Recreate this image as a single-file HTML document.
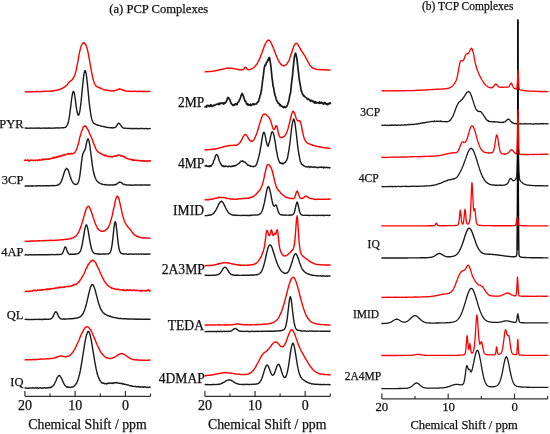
<!DOCTYPE html>
<html><head><meta charset="utf-8"><style>
html,body{margin:0;padding:0;background:#fff;}
body{width:550px;height:434px;overflow:hidden;position:relative;font-family:"Liberation Serif",serif;color:#111;}
svg{position:absolute;left:0;top:0;will-change:transform;}
.t{font-family:"Liberation Serif",serif;fill:#111;stroke:#111;stroke-width:0.25px;}
</style></head><body>
<svg width="550" height="434" viewBox="0 0 550 434">
<line x1="24.90" y1="396.3" x2="150.53" y2="396.3" stroke="#333" stroke-width="1.3"/>
<line x1="24.90" y1="391.0" x2="24.90" y2="396.3" stroke="#333" stroke-width="1.2"/>
<line x1="50.02" y1="393.5" x2="50.02" y2="396.3" stroke="#333" stroke-width="1.2"/>
<line x1="75.15" y1="391.0" x2="75.15" y2="396.3" stroke="#333" stroke-width="1.2"/>
<line x1="100.28" y1="393.5" x2="100.28" y2="396.3" stroke="#333" stroke-width="1.2"/>
<line x1="125.40" y1="391.0" x2="125.40" y2="396.3" stroke="#333" stroke-width="1.2"/>
<line x1="150.53" y1="393.5" x2="150.53" y2="396.3" stroke="#333" stroke-width="1.2"/><line x1="204.90" y1="396.3" x2="330.27" y2="396.3" stroke="#333" stroke-width="1.3"/>
<line x1="204.90" y1="391.0" x2="204.90" y2="396.3" stroke="#333" stroke-width="1.2"/>
<line x1="229.97" y1="393.5" x2="229.97" y2="396.3" stroke="#333" stroke-width="1.2"/>
<line x1="255.05" y1="391.0" x2="255.05" y2="396.3" stroke="#333" stroke-width="1.2"/>
<line x1="280.12" y1="393.5" x2="280.12" y2="396.3" stroke="#333" stroke-width="1.2"/>
<line x1="305.20" y1="391.0" x2="305.20" y2="396.3" stroke="#333" stroke-width="1.2"/>
<line x1="330.27" y1="393.5" x2="330.27" y2="396.3" stroke="#333" stroke-width="1.2"/><line x1="381.90" y1="398.9" x2="547.65" y2="398.9" stroke="#333" stroke-width="1.3"/>
<line x1="381.90" y1="393.59999999999997" x2="381.90" y2="398.9" stroke="#333" stroke-width="1.2"/>
<line x1="415.05" y1="396.09999999999997" x2="415.05" y2="398.9" stroke="#333" stroke-width="1.2"/>
<line x1="448.20" y1="393.59999999999997" x2="448.20" y2="398.9" stroke="#333" stroke-width="1.2"/>
<line x1="481.35" y1="396.09999999999997" x2="481.35" y2="398.9" stroke="#333" stroke-width="1.2"/>
<line x1="514.50" y1="393.59999999999997" x2="514.50" y2="398.9" stroke="#333" stroke-width="1.2"/>
<line x1="547.65" y1="396.09999999999997" x2="547.65" y2="398.9" stroke="#333" stroke-width="1.2"/>
<polyline points="24.6,128.14 25.1,128.07 25.6,128.08 26.1,127.88 26.6,128.30 27.1,128.24 27.6,128.09 28.1,128.20 28.6,128.15 29.1,128.07 29.6,128.23 30.1,128.10 30.6,128.10 31.1,128.05 31.6,128.18 32.1,128.12 32.6,128.19 33.1,128.07 33.6,128.15 34.1,128.04 34.6,128.22 35.1,128.15 35.6,128.17 36.1,128.18 36.6,128.03 37.1,128.21 37.6,128.34 38.1,127.97 38.6,127.96 39.1,127.98 39.6,128.22 40.1,128.15 40.6,128.24 41.1,128.20 41.6,128.15 42.1,128.16 42.6,128.11 43.1,128.22 43.6,128.01 44.1,128.08 44.6,128.15 45.1,128.30 45.6,128.04 46.1,128.01 46.6,128.06 47.1,128.21 47.6,128.09 48.1,128.24 48.6,127.92 49.1,128.22 49.6,128.20 50.1,127.95 50.6,128.11 51.1,128.21 51.6,128.09 52.1,128.18 52.6,128.31 53.1,128.09 53.6,128.03 54.1,127.98 54.6,128.11 55.1,128.02 55.6,128.01 56.1,128.01 56.6,128.07 57.1,127.89 57.6,127.83 58.1,127.73 58.6,128.08 59.1,127.95 59.6,128.08 60.1,127.91 60.6,127.82 61.1,127.91 61.6,127.83 62.1,127.69 62.6,127.69 63.1,127.91 63.6,127.72 64.1,127.65 64.6,127.48 65.1,127.29 65.6,127.21 66.1,126.76 66.6,126.16 67.1,125.45 67.6,124.25 68.1,122.83 68.6,120.89 69.1,118.10 69.6,115.18 70.1,111.32 70.6,107.40 71.1,103.16 71.6,99.24 72.1,95.80 72.6,93.12 73.1,91.62 73.4,91.37 73.6,91.46 74.1,92.56 74.6,95.01 75.1,98.23 75.6,101.89 76.1,105.55 76.6,109.14 77.1,111.78 77.6,113.78 78.1,115.16 78.6,115.02 79.1,114.33 79.6,112.25 80.1,109.53 80.6,105.59 81.1,101.46 81.6,96.41 82.1,91.10 82.6,86.11 83.1,81.07 83.6,76.68 84.1,73.25 84.6,71.20 85.0,70.49 85.1,70.58 85.6,71.37 86.1,73.40 86.6,76.79 87.1,81.09 87.6,85.90 88.1,91.16 88.6,96.38 89.1,101.39 89.6,105.96 90.1,109.71 90.6,113.23 91.1,115.91 91.6,118.39 92.1,119.90 92.6,121.27 93.1,122.10 93.5,122.70 93.6,122.93 94.1,123.39 94.6,123.85 95.1,123.94 95.6,124.40 96.1,124.43 96.6,124.86 97.1,124.82 97.6,125.10 98.1,125.00 98.6,125.33 99.1,125.34 99.6,125.53 100.1,125.72 100.6,125.83 101.1,126.03 101.6,126.21 102.1,126.34 102.6,126.39 103.1,126.39 103.6,126.56 104.1,126.74 104.6,126.65 105.1,127.04 105.6,127.04 106.1,127.14 106.6,127.34 107.1,127.40 107.6,127.43 108.1,127.38 108.6,127.58 109.1,127.64 109.6,127.57 110.1,127.81 110.6,127.81 111.1,127.60 111.6,127.84 112.1,127.73 112.6,127.98 113.1,127.95 113.6,127.72 114.1,127.66 114.6,127.61 115.1,127.32 115.6,127.11 116.1,126.50 116.6,125.72 117.1,125.05 117.6,124.03 118.1,123.63 118.6,123.32 118.9,123.16 119.1,123.16 119.6,123.65 120.1,124.43 120.6,125.04 121.1,125.70 121.6,126.67 122.1,126.92 122.6,127.59 123.1,127.79 123.6,128.14 124.1,128.08 124.6,128.38 125.1,128.33 125.6,128.16 126.1,128.15 126.6,128.34 127.1,128.52 127.6,128.41 128.1,128.42 128.6,128.40 129.1,128.51 129.6,128.49 130.1,128.49 130.6,128.37 131.1,128.59 131.6,128.62 132.1,128.36 132.6,128.73 133.1,128.58 133.6,128.46 134.1,128.33 134.6,128.59 135.1,128.59 135.6,128.48 136.1,128.37 136.6,128.66 137.1,128.50 137.6,128.51 138.1,128.85 138.6,128.78 139.1,128.67 139.6,128.54 140.1,128.65 140.6,128.36 141.1,128.61 141.6,128.52 142.1,128.48 142.6,128.45 143.1,128.67 143.6,128.63 144.1,128.64 144.6,128.71 145.1,128.55 145.6,128.51 146.1,128.46 146.6,128.61 147.1,128.72 147.6,128.63 148.1,128.72 148.6,128.54 149.1,128.61 149.6,128.59 150.1,128.54 150.6,128.86" fill="none" stroke="#1a1a1a" stroke-width="1.4" stroke-linejoin="round"/>
<polyline points="24.6,185.96 25.1,186.00 25.6,186.18 26.1,186.08 26.6,185.84 27.1,186.00 27.6,185.93 28.1,186.01 28.6,185.82 29.1,186.00 29.6,186.00 30.1,186.13 30.6,186.00 31.1,186.01 31.6,185.80 32.1,186.17 32.6,185.75 33.1,186.05 33.6,185.90 34.1,185.84 34.6,185.85 35.1,185.85 35.6,185.95 36.1,185.89 36.6,186.04 37.1,185.71 37.6,185.88 38.1,185.79 38.6,185.95 39.1,185.65 39.6,185.82 40.1,185.87 40.6,185.70 41.1,185.94 41.6,185.85 42.1,185.93 42.6,185.91 43.1,185.71 43.6,185.72 44.1,185.78 44.6,185.86 45.1,185.87 45.6,185.70 46.1,185.70 46.6,185.68 47.1,185.69 47.6,185.71 48.1,185.72 48.6,185.93 49.1,185.66 49.6,185.67 50.1,185.73 50.6,185.58 51.1,185.63 51.6,185.65 52.1,185.72 52.6,185.49 53.1,185.75 53.6,185.56 54.1,185.59 54.6,185.63 55.1,185.59 55.6,185.59 56.1,185.45 56.6,185.36 57.1,185.30 57.6,185.04 58.1,185.07 58.6,184.62 59.1,184.23 59.6,184.10 60.1,183.29 60.6,182.44 61.1,181.83 61.6,180.51 62.1,179.38 62.6,177.77 63.1,176.29 63.6,174.56 64.1,172.96 64.6,171.57 65.1,170.36 65.6,169.44 66.1,168.95 66.6,168.36 66.6,168.56 67.1,168.60 67.6,169.25 68.1,170.09 68.6,171.34 69.1,172.86 69.6,174.36 70.1,176.04 70.6,177.48 71.1,179.06 71.6,180.19 72.1,181.26 72.6,182.24 73.1,182.89 73.6,183.38 74.1,183.79 74.6,184.07 75.1,184.38 75.6,184.45 76.1,184.43 76.6,184.38 77.1,184.02 77.6,183.68 78.1,182.72 78.6,181.74 79.1,179.75 79.6,177.15 80.1,173.83 80.6,169.80 81.1,165.48 81.6,161.43 82.1,157.69 82.5,155.38 82.6,155.01 83.1,153.06 83.6,152.38 84.1,151.44 84.6,150.55 85.1,149.40 85.6,147.49 86.1,145.00 86.6,142.69 87.1,140.68 87.6,139.37 88.0,138.78 88.1,138.81 88.6,139.63 89.1,141.34 89.6,144.13 90.1,147.56 90.6,151.27 91.1,155.36 91.6,159.19 92.1,163.21 92.6,166.78 93.1,169.53 93.6,172.31 93.8,173.01 94.1,174.31 94.6,176.07 95.1,177.51 95.6,178.57 96.1,179.58 96.6,180.38 97.1,181.10 97.6,181.66 98.1,181.98 98.6,182.54 99.1,182.74 99.6,183.11 100.1,183.44 100.6,183.64 101.1,183.84 101.6,184.06 102.1,184.13 102.6,184.26 103.1,184.41 103.6,184.62 104.1,184.60 104.6,184.86 105.1,184.75 105.6,184.48 106.1,184.77 106.6,185.01 107.1,184.87 107.6,184.85 108.1,184.83 108.6,185.06 109.1,185.04 109.6,185.02 110.1,185.01 110.6,185.12 111.1,185.06 111.6,184.86 112.1,185.06 112.6,184.99 113.1,184.96 113.6,185.02 114.1,184.91 114.6,184.55 115.1,184.90 115.6,184.70 116.1,184.38 116.6,184.09 117.1,183.83 117.6,183.30 118.1,183.07 118.6,182.63 119.1,182.30 119.6,182.04 120.0,182.01 120.1,182.20 120.6,182.33 121.1,182.51 121.6,182.80 122.1,183.11 122.6,183.66 123.1,184.11 123.6,184.09 124.1,184.61 124.6,184.46 125.1,184.77 125.6,184.93 126.1,184.81 126.6,184.83 127.1,185.02 127.6,185.11 128.1,184.98 128.6,185.17 129.1,184.96 129.6,185.21 130.1,185.05 130.6,185.07 131.1,185.10 131.6,185.07 132.1,185.23 132.6,185.26 133.1,185.10 133.6,185.02 134.1,184.92 134.6,184.96 135.1,185.04 135.6,185.02 136.1,185.03 136.6,185.03 137.1,185.08 137.6,184.89 138.1,184.92 138.6,185.13 139.1,185.10 139.6,184.96 140.1,185.14 140.6,184.94 141.1,184.98 141.6,184.82 142.1,185.08 142.6,185.00 143.1,185.10 143.6,185.06 144.1,185.00 144.6,185.00 145.1,185.10 145.6,184.96 146.1,184.96 146.6,184.98 147.1,185.05 147.6,185.06 148.1,185.15 148.6,184.95 149.1,185.08 149.6,184.89 150.1,185.01 150.6,184.96" fill="none" stroke="#1a1a1a" stroke-width="1.4" stroke-linejoin="round"/>
<polyline points="24.6,254.94 25.1,255.01 25.6,254.57 26.1,254.81 26.6,254.92 27.1,254.95 27.6,254.88 28.1,254.96 28.6,254.84 29.1,254.86 29.6,254.82 30.1,254.69 30.6,254.71 31.1,254.83 31.6,254.73 32.1,254.91 32.6,254.91 33.1,254.96 33.6,254.77 34.1,254.91 34.6,254.68 35.1,254.69 35.6,254.77 36.1,254.79 36.6,254.60 37.1,254.58 37.6,254.79 38.1,254.66 38.6,254.86 39.1,254.78 39.6,254.77 40.1,254.75 40.6,254.82 41.1,254.71 41.6,254.83 42.1,254.67 42.6,254.69 43.1,254.64 43.6,254.77 44.1,254.71 44.6,254.61 45.1,254.90 45.6,254.66 46.1,254.68 46.6,254.72 47.1,254.85 47.6,254.66 48.1,254.74 48.6,254.68 49.1,254.52 49.6,254.74 50.1,254.76 50.6,254.63 51.1,254.64 51.6,254.49 52.1,254.48 52.6,254.59 53.1,254.69 53.6,254.57 54.1,254.64 54.6,254.70 55.1,254.61 55.6,254.65 56.1,254.73 56.6,254.45 57.1,254.64 57.6,254.37 58.1,254.59 58.6,254.56 59.1,254.47 59.6,254.40 60.1,254.48 60.6,254.39 61.1,254.34 61.6,254.03 62.1,253.78 62.6,252.94 63.1,251.97 63.6,250.59 64.1,249.24 64.6,247.63 65.1,246.97 65.3,247.06 65.6,247.03 66.1,247.86 66.6,249.40 67.1,250.84 67.6,252.25 68.1,253.02 68.6,253.74 69.1,254.12 69.6,254.32 70.1,254.17 70.6,254.45 71.1,254.22 71.6,254.16 72.1,254.20 72.6,254.30 73.1,254.24 73.6,254.29 74.1,254.28 74.6,254.23 75.1,254.15 75.6,254.31 76.1,253.86 76.6,253.84 77.1,253.87 77.6,253.67 78.1,253.35 78.6,253.25 79.1,252.85 79.6,252.11 80.1,251.64 80.6,250.60 81.1,249.18 81.6,247.21 82.1,245.09 82.6,242.39 83.1,239.65 83.6,236.48 84.1,233.48 84.6,230.47 85.1,228.08 85.6,226.19 86.1,225.23 86.4,224.81 86.6,224.90 87.1,226.09 87.6,227.83 88.1,230.43 88.6,233.34 89.1,236.43 89.6,239.58 90.1,242.42 90.6,244.98 91.1,247.04 91.6,249.10 92.1,250.36 92.6,251.54 93.1,252.26 93.6,252.93 94.1,253.21 94.6,253.49 95.1,253.67 95.6,253.71 96.1,253.81 96.6,253.91 97.1,253.95 97.6,253.90 98.1,254.25 98.6,253.94 99.1,254.02 99.6,254.30 100.1,254.00 100.6,254.15 101.1,254.14 101.6,254.05 102.1,253.93 102.6,253.91 103.1,254.06 103.6,254.10 104.1,253.83 104.6,254.04 105.1,253.95 105.6,254.08 106.1,253.98 106.6,253.85 107.1,253.85 107.6,253.84 108.1,253.89 108.6,253.93 109.1,253.46 109.6,253.08 110.1,252.53 110.6,251.47 111.1,250.00 111.6,247.71 112.1,244.58 112.6,240.58 113.1,236.11 113.6,231.37 114.1,226.82 114.6,223.55 115.1,221.82 115.2,221.63 115.6,222.37 116.1,224.56 116.6,228.74 117.1,233.51 117.6,238.07 118.1,242.41 118.6,246.09 119.1,248.87 119.6,250.70 120.1,251.97 120.6,252.84 121.1,253.26 121.6,253.40 122.1,253.66 122.6,253.78 123.1,253.70 123.6,253.94 124.1,253.86 124.6,254.04 125.1,253.85 125.6,253.92 126.1,253.89 126.6,254.18 127.1,254.19 127.6,254.22 128.1,254.23 128.6,254.19 129.1,254.19 129.6,253.94 130.1,254.15 130.6,254.07 131.1,254.09 131.6,254.01 132.1,254.26 132.6,254.15 133.1,253.99 133.6,254.19 134.1,254.13 134.6,254.04 135.1,254.11 135.6,254.06 136.1,253.91 136.6,253.99 137.1,254.19 137.6,254.17 138.1,254.16 138.6,254.02 139.1,254.07 139.6,254.14 140.1,254.20 140.6,254.05 141.1,254.02 141.6,254.24 142.1,254.13 142.6,254.09 143.1,254.05 143.6,254.06 144.1,254.28 144.6,254.22 145.1,254.08 145.6,253.99 146.1,254.28 146.6,254.27 147.1,254.23 147.6,254.19 148.1,253.92 148.6,253.98 149.1,254.16 149.6,254.07 150.1,254.12 150.6,254.04" fill="none" stroke="#1a1a1a" stroke-width="1.4" stroke-linejoin="round"/>
<polyline points="24.6,319.32 25.1,319.35 25.6,319.35 26.1,319.45 26.6,319.25 27.1,319.46 27.6,319.38 28.1,319.56 28.6,319.57 29.1,319.61 29.6,319.54 30.1,319.46 30.6,319.55 31.1,319.61 31.6,319.39 32.1,319.51 32.6,319.45 33.1,319.59 33.6,319.36 34.1,319.41 34.6,319.48 35.1,319.46 35.6,319.27 36.1,319.47 36.6,319.41 37.1,319.40 37.6,319.40 38.1,319.44 38.6,319.23 39.1,319.56 39.6,319.32 40.1,319.17 40.6,319.39 41.1,319.54 41.6,319.33 42.1,319.53 42.6,319.53 43.1,319.28 43.6,319.12 44.1,319.23 44.6,319.47 45.1,319.26 45.6,319.18 46.1,319.19 46.6,319.32 47.1,319.31 47.6,319.38 48.1,319.38 48.6,319.17 49.1,319.22 49.6,319.07 50.1,319.11 50.6,318.86 51.1,318.63 51.6,318.61 52.1,317.89 52.6,317.24 53.1,316.52 53.6,315.29 54.1,314.07 54.6,313.03 55.1,312.12 55.6,311.85 55.8,311.65 56.1,311.93 56.6,312.21 57.1,313.06 57.6,314.11 58.1,315.33 58.6,316.31 59.1,317.30 59.6,317.78 60.1,318.34 60.6,318.82 61.1,318.79 61.6,318.98 62.1,319.14 62.6,319.07 63.1,318.96 63.6,318.81 64.1,319.25 64.6,319.05 65.1,319.12 65.6,318.93 66.1,319.15 66.6,319.00 67.1,318.93 67.6,318.82 68.1,318.93 68.6,318.82 69.1,318.82 69.6,318.65 70.1,318.73 70.6,318.77 71.1,318.59 71.6,318.69 72.1,318.71 72.6,318.57 73.1,318.49 73.6,318.44 74.1,318.54 74.6,318.23 75.1,318.29 75.6,318.20 76.1,318.17 76.6,318.06 77.1,317.85 77.6,318.04 78.1,317.71 78.6,317.38 79.1,317.23 79.6,317.08 80.1,316.84 80.6,316.30 81.1,316.08 81.6,315.36 82.1,314.82 82.6,314.26 83.1,313.50 83.6,312.34 84.1,311.17 84.6,310.03 85.1,308.33 85.6,306.83 86.1,305.04 86.6,303.19 87.1,301.07 87.6,298.89 88.1,296.80 88.6,294.45 89.1,292.53 89.6,290.39 90.1,288.56 90.6,287.06 91.1,285.87 91.6,285.07 92.1,284.53 92.2,284.59 92.6,284.63 93.1,284.93 93.6,285.65 94.1,286.99 94.6,288.37 95.1,289.80 95.6,291.74 96.1,293.78 96.6,295.59 97.1,297.62 97.6,299.42 98.1,301.45 98.5,302.82 98.6,303.14 99.1,304.85 99.6,306.11 100.1,307.41 100.6,308.80 101.1,309.48 101.6,310.57 102.1,311.14 102.6,311.97 103.1,312.73 103.6,313.05 104.1,313.38 104.6,314.08 105.1,314.12 105.6,314.46 106.1,314.78 106.6,314.87 107.1,315.34 107.6,315.61 108.1,315.73 108.6,315.88 109.1,316.01 109.6,316.29 110.1,316.06 110.6,316.52 111.1,316.71 111.6,316.63 112.1,317.02 112.6,317.10 113.1,317.23 113.6,317.37 114.1,317.53 114.6,317.63 115.1,317.59 115.6,317.78 116.1,317.87 116.6,317.98 117.1,318.00 117.6,318.23 118.1,318.34 118.6,318.43 119.1,318.53 119.6,318.55 120.1,318.41 120.6,318.45 121.1,318.52 121.6,318.66 122.1,318.63 122.6,318.78 123.1,318.89 123.6,318.71 124.1,318.89 124.6,318.78 125.1,318.72 125.6,318.74 126.1,318.86 126.6,318.73 127.1,318.99 127.6,319.11 128.1,318.86 128.6,318.96 129.1,319.16 129.6,319.06 130.1,319.06 130.6,319.02 131.1,319.16 131.6,319.11 132.1,318.98 132.6,318.85 133.1,318.84 133.6,319.18 134.1,319.10 134.6,319.28 135.1,319.19 135.6,319.02 136.1,319.19 136.6,319.28 137.1,319.08 137.6,319.13 138.1,319.36 138.6,319.01 139.1,319.09 139.6,319.31 140.1,319.23 140.6,319.10 141.1,319.07 141.6,319.27 142.1,319.35 142.6,319.31 143.1,319.27 143.6,319.39 144.1,319.27 144.6,319.16 145.1,319.45 145.6,319.13 146.1,319.24 146.6,319.25 147.1,319.41 147.6,319.19 148.1,319.24 148.6,319.09 149.1,319.31 149.6,319.32 150.1,319.35 150.6,319.19" fill="none" stroke="#1a1a1a" stroke-width="1.4" stroke-linejoin="round"/>
<polyline points="24.6,387.94 25.1,388.01 25.6,387.99 26.1,388.20 26.6,388.09 27.1,388.16 27.6,388.30 28.1,388.30 28.6,388.22 29.1,388.03 29.6,387.97 30.1,387.95 30.6,388.04 31.1,388.09 31.6,387.90 32.1,387.87 32.6,388.15 33.1,387.71 33.6,388.04 34.1,388.16 34.6,387.87 35.1,387.84 35.6,387.91 36.1,388.18 36.6,388.02 37.1,387.67 37.6,387.95 38.1,388.23 38.6,388.22 39.1,388.14 39.6,387.96 40.1,387.64 40.6,388.03 41.1,387.96 41.6,388.00 42.1,388.29 42.6,388.01 43.1,388.02 43.6,388.07 44.1,387.89 44.6,387.80 45.1,387.78 45.6,388.07 46.1,388.00 46.6,387.79 47.1,388.10 47.6,387.89 48.1,387.56 48.6,387.92 49.1,387.73 49.6,387.43 50.1,387.72 50.6,387.43 51.1,387.26 51.6,387.24 52.1,386.39 52.6,386.18 53.1,385.85 53.6,385.37 54.1,384.43 54.6,383.48 55.1,382.46 55.6,381.55 56.1,380.55 56.6,378.96 57.1,377.73 57.6,377.10 58.1,376.29 58.6,375.65 59.1,375.71 59.2,375.74 59.6,375.56 60.1,376.00 60.6,376.86 61.1,377.56 61.6,378.41 62.1,379.81 62.6,380.79 63.1,382.15 63.6,383.02 64.1,384.00 64.6,384.94 65.1,385.47 65.6,385.90 66.1,386.23 66.6,387.09 67.1,387.20 67.6,386.83 68.1,387.03 68.6,387.42 69.1,387.21 69.6,387.33 70.1,387.47 70.6,387.29 71.1,387.18 71.6,387.02 72.1,386.98 72.6,386.92 73.1,386.99 73.6,386.61 74.1,386.04 74.6,385.87 75.1,385.22 75.6,384.31 76.1,383.86 76.6,383.21 77.1,381.86 77.6,380.95 78.1,379.30 78.6,377.74 79.1,375.65 79.6,374.23 80.1,371.61 80.6,369.20 81.1,366.18 81.6,363.06 82.1,360.53 82.6,356.97 83.1,354.20 83.6,350.59 84.1,347.75 84.6,344.21 85.1,341.12 85.6,339.00 86.1,336.56 86.6,334.67 87.1,333.44 87.6,332.09 88.1,331.56 88.2,331.56 88.6,331.57 89.1,332.16 89.6,333.39 90.1,335.04 90.6,337.15 91.1,339.37 91.6,342.24 92.1,345.31 92.6,348.16 93.1,351.41 93.6,354.30 94.1,357.64 94.6,360.70 95.1,363.35 95.6,365.88 96.1,368.65 96.6,370.97 97.1,373.31 97.6,374.77 98.1,376.78 98.6,377.35 99.1,378.95 99.6,379.90 100.1,380.75 100.6,381.40 101.1,382.04 101.5,382.73 101.6,382.45 102.1,383.06 102.6,383.08 103.1,383.32 103.6,382.98 104.1,383.58 104.6,383.75 105.1,383.46 105.6,383.58 106.1,383.54 106.6,384.12 107.1,383.48 107.6,383.50 108.1,383.07 108.6,383.25 109.1,383.55 109.6,383.20 110.1,382.84 110.6,383.27 111.1,383.29 111.6,383.26 112.1,383.22 112.6,382.97 113.1,383.59 113.6,382.88 114.1,383.04 114.6,382.67 115.1,382.77 115.6,382.58 116.1,382.92 116.5,382.80 116.6,382.69 117.1,382.51 117.6,383.04 118.1,383.13 118.6,383.19 119.1,383.06 119.6,383.29 120.1,383.41 120.6,383.42 121.1,383.70 121.6,383.49 122.1,383.67 122.6,383.44 123.1,384.27 123.6,383.83 124.1,384.17 124.6,384.36 125.1,384.20 125.6,384.48 126.1,384.75 126.6,384.73 127.1,384.81 127.6,384.94 128.1,384.98 128.6,385.21 129.1,385.43 129.6,385.57 130.1,385.80 130.6,385.71 131.1,385.70 131.6,386.07 132.1,386.06 132.6,386.28 133.1,386.21 133.6,386.36 134.1,386.41 134.6,386.55 135.1,386.29 135.6,386.52 136.1,386.64 136.6,387.00 137.1,386.70 137.6,386.86 138.1,386.78 138.6,386.45 139.1,387.14 139.6,387.07 140.1,387.21 140.6,386.73 141.1,387.08 141.6,387.08 142.1,386.76 142.6,387.19 143.1,386.99 143.6,387.23 144.1,386.82 144.6,386.99 145.1,387.04 145.6,386.89 146.1,387.21 146.6,387.47 147.1,387.21 147.6,387.35 148.1,387.52 148.6,387.35 149.1,387.17 149.6,386.87 150.1,387.32 150.6,387.19" fill="none" stroke="#1a1a1a" stroke-width="1.4" stroke-linejoin="round"/>
<polyline points="204.6,106.27 205.1,106.83 205.6,106.63 206.1,106.59 206.6,107.05 207.1,105.46 207.6,105.74 208.1,105.32 208.6,105.94 209.1,106.50 209.6,105.89 210.1,106.12 210.6,104.73 211.1,105.79 211.6,105.14 212.1,106.54 212.6,105.96 213.1,105.91 213.6,105.26 214.1,105.53 214.6,105.44 215.1,104.78 215.6,104.58 216.1,104.68 216.6,104.29 217.1,104.17 217.6,104.22 218.1,103.85 218.6,104.55 219.1,103.13 219.6,104.34 220.1,103.44 220.6,103.38 221.1,102.84 221.6,103.42 222.1,103.28 222.6,103.46 223.1,102.99 223.5,103.28 223.6,104.22 224.1,103.34 224.6,102.64 225.1,103.19 225.6,102.15 226.1,101.88 226.6,101.02 227.1,99.47 227.6,97.66 228.1,97.86 228.6,98.18 228.6,97.68 229.1,98.57 229.6,99.78 230.1,100.08 230.6,102.20 231.1,103.40 231.6,103.86 232.1,104.44 232.6,104.75 233.1,105.61 233.6,104.62 234.1,104.60 234.6,104.99 235.1,104.18 235.6,103.80 236.1,104.10 236.6,104.63 237.1,104.41 237.6,102.86 238.1,102.02 238.6,102.00 239.1,100.94 239.6,99.67 240.1,98.59 240.6,97.40 241.1,95.54 241.6,94.81 242.1,93.49 242.2,93.44 242.6,94.47 243.1,95.55 243.6,96.84 244.1,98.24 244.6,99.85 245.1,101.25 245.6,101.03 246.1,102.54 246.6,103.90 247.1,104.48 247.6,103.66 248.1,105.35 248.6,104.59 249.1,104.78 249.6,105.09 250.1,105.37 250.6,104.17 251.1,105.50 251.6,104.98 252.1,104.48 252.6,104.72 253.1,103.61 253.6,104.38 254.1,104.73 254.6,104.09 255.1,104.11 255.6,103.96 256.1,103.75 256.6,103.87 257.1,102.76 257.6,101.96 258.1,101.58 258.6,101.42 259.1,98.88 259.6,97.90 260.1,95.03 260.6,94.59 261.1,91.78 261.6,89.25 262.1,85.05 262.6,80.61 263.1,77.50 263.6,73.36 264.1,68.95 264.3,67.27 264.6,67.01 265.1,64.95 265.6,65.49 266.1,63.09 266.6,62.56 267.1,62.02 267.6,60.15 267.6,60.53 268.1,60.65 268.6,58.48 269.1,57.58 269.6,57.70 269.9,59.78 270.1,60.78 270.6,64.07 271.1,68.27 271.6,73.58 272.1,78.36 272.6,81.99 273.1,86.28 273.6,87.78 274.1,90.79 274.6,93.54 275.1,95.56 275.6,96.64 276.1,98.90 276.6,100.54 277.1,101.27 277.6,102.06 278.1,103.17 278.6,103.63 279.1,103.38 279.6,104.45 280.1,105.77 280.6,104.89 281.1,105.98 281.6,106.13 282.1,106.20 282.6,106.44 283.1,107.30 283.6,107.59 284.1,107.66 284.6,106.67 285.1,107.16 285.5,107.30 285.6,107.56 286.1,106.98 286.6,106.48 287.1,105.86 287.6,104.74 288.1,102.64 288.6,101.65 289.1,99.42 289.6,96.30 290.1,94.02 290.6,92.92 291.1,87.45 291.6,82.60 292.1,78.81 292.6,74.94 293.1,68.93 293.6,64.19 294.1,59.35 294.6,55.93 295.1,54.49 295.4,53.65 295.6,53.16 296.1,54.78 296.6,57.40 297.1,60.30 297.6,64.83 298.1,69.35 298.6,73.33 299.1,78.54 299.5,80.87 299.6,81.34 300.1,84.02 300.6,86.97 301.1,90.72 301.6,91.01 302.1,93.24 302.6,93.87 303.1,95.19 303.6,95.90 304.1,95.69 304.6,96.42 305.1,97.04 305.6,97.42 306.1,97.69 306.6,97.86 307.1,98.70 307.6,99.38 308.1,99.25 308.6,98.84 309.1,99.74 309.6,99.83 310.1,100.31 310.6,101.32 311.1,100.43 311.6,100.77 312.1,100.51 312.6,101.05 313.1,101.09 313.6,102.47 314.1,101.93 314.6,101.62 315.1,103.15 315.6,101.50 316.1,102.83 316.6,103.04 317.1,102.91 317.6,102.56 318.1,102.73 318.6,102.70 319.1,103.40 319.6,101.76 320.1,102.83 320.6,103.25 321.1,102.90 321.6,102.27 322.1,103.18 322.6,102.94 323.1,103.83 323.6,104.18 324.1,103.48 324.6,102.40 325.1,103.38 325.6,103.00 326.1,103.90 326.6,104.46 327.1,103.72 327.6,104.67 328.1,104.40 328.6,103.95 329.1,103.10 329.6,103.69 330.1,102.85 330.6,104.22" fill="none" stroke="#1a1a1a" stroke-width="1.7" stroke-linejoin="round"/>
<polyline points="204.6,166.43 205.1,165.92 205.6,165.74 206.1,165.33 206.6,166.09 207.1,166.56 207.6,166.18 208.1,166.30 208.6,166.43 209.1,165.82 209.6,166.82 210.1,165.67 210.6,165.89 211.1,166.36 211.6,165.15 212.1,164.69 212.6,163.75 213.1,163.02 213.6,161.06 214.1,160.06 214.6,159.20 215.1,157.21 215.6,155.71 216.1,154.93 216.6,154.56 216.7,154.48 217.1,154.88 217.6,155.07 218.1,157.05 218.6,158.20 219.1,160.22 219.6,161.46 220.1,162.45 220.6,163.77 221.1,164.28 221.6,165.46 222.1,165.55 222.6,166.08 223.1,165.66 223.6,166.59 224.1,166.08 224.6,166.63 225.1,166.51 225.6,165.95 226.1,166.40 226.6,166.15 227.1,166.45 227.6,166.77 228.1,166.55 228.6,166.68 229.1,166.01 229.6,166.42 230.1,166.47 230.6,166.68 231.1,166.16 231.6,166.50 232.1,166.44 232.6,165.82 233.1,165.91 233.6,166.29 234.1,165.71 234.6,165.58 235.1,166.06 235.6,165.68 236.1,165.29 236.6,165.11 237.1,164.62 237.6,164.21 238.1,163.82 238.6,163.62 239.1,163.44 239.6,162.44 240.1,162.12 240.6,161.68 241.1,161.03 241.6,161.25 242.1,161.31 242.4,160.79 242.6,161.31 243.1,161.01 243.6,161.77 244.1,162.12 244.6,162.04 245.1,162.01 245.6,162.98 246.1,163.14 246.6,163.62 247.1,164.36 247.6,165.23 248.1,165.14 248.6,165.40 249.1,165.16 249.6,165.74 250.1,165.67 250.6,166.37 251.1,166.16 251.6,166.38 252.1,166.44 252.6,166.43 253.1,166.78 253.6,166.61 254.1,166.29 254.6,166.28 255.1,166.12 255.6,165.92 256.1,164.90 256.6,164.40 257.1,162.63 257.6,161.31 258.1,159.26 258.6,158.06 259.1,155.39 259.5,153.54 259.6,153.61 260.1,150.61 260.6,147.69 261.1,145.11 261.6,141.55 262.1,138.73 262.6,135.53 263.1,133.74 263.6,132.65 263.9,132.16 264.1,132.77 264.6,133.10 265.1,135.06 265.6,137.65 266.1,140.62 266.6,142.69 267.1,144.53 267.6,145.78 268.1,146.19 268.6,144.88 269.1,143.05 269.6,141.26 270.1,139.09 270.6,136.35 271.1,134.44 271.6,132.25 272.1,131.92 272.4,131.78 272.6,131.99 273.1,132.60 273.6,134.23 274.1,135.86 274.6,139.05 275.1,141.40 275.6,144.92 276.1,148.62 276.6,151.58 277.1,153.52 277.6,156.65 278.1,158.35 278.6,159.86 279.1,161.40 279.6,162.28 280.1,163.29 280.6,162.83 281.1,163.36 281.6,163.53 282.1,163.02 282.6,163.87 283.1,163.94 283.5,163.11 283.6,163.38 284.1,162.99 284.6,162.90 285.1,162.25 285.6,162.19 286.1,160.87 286.6,160.64 287.1,159.00 287.6,157.89 288.1,154.47 288.6,152.26 289.1,148.73 289.6,145.45 290.1,141.62 290.6,136.98 291.1,132.53 291.6,128.31 292.1,125.20 292.6,122.54 293.1,120.51 293.6,119.35 293.7,119.04 294.1,119.70 294.6,121.05 295.1,123.80 295.6,128.16 296.1,131.87 296.6,136.43 297.1,140.65 297.6,145.36 298.1,149.30 298.6,152.12 299.1,155.26 299.6,157.70 300.1,160.37 300.6,161.99 301.1,162.81 301.6,164.56 302.1,164.60 302.6,164.77 303.1,164.92 303.6,165.77 304.1,166.13 304.6,166.02 305.1,166.43 305.6,166.78 306.1,166.48 306.6,166.82 307.1,167.13 307.6,166.83 308.1,166.56 308.6,166.90 309.1,166.97 309.6,167.49 310.1,166.75 310.6,166.45 311.1,167.03 311.6,167.07 312.1,166.87 312.6,167.19 313.1,167.14 313.6,167.43 314.1,166.84 314.6,166.90 315.1,167.12 315.6,166.99 316.1,167.54 316.6,167.35 317.1,167.18 317.6,167.66 318.1,167.37 318.6,167.53 319.1,167.49 319.6,167.22 320.1,167.23 320.6,167.29 321.1,166.97 321.6,167.20 322.1,167.57 322.6,167.42 323.1,167.06 323.6,168.06 324.1,167.05 324.6,167.55 325.1,167.59 325.6,167.77 326.1,167.14 326.6,167.41 327.1,167.36 327.6,167.77 328.1,167.55 328.6,167.57 329.1,167.61 329.6,168.05 330.1,167.67 330.6,167.74" fill="none" stroke="#1a1a1a" stroke-width="1.4" stroke-linejoin="round"/>
<polyline points="204.6,215.47 205.1,215.58 205.6,215.60 206.1,215.58 206.6,215.64 207.1,215.39 207.6,215.46 208.1,215.33 208.6,215.18 209.1,215.19 209.6,215.20 210.1,215.00 210.6,214.95 211.1,214.93 211.6,214.68 212.1,214.44 212.6,214.11 213.1,213.69 213.6,213.07 214.1,212.82 214.6,211.94 215.1,211.40 215.6,210.56 216.1,209.69 216.6,208.73 217.1,207.65 217.6,206.73 218.1,205.46 218.6,204.65 219.1,203.46 219.6,202.92 220.1,202.08 220.6,201.70 221.1,201.58 221.3,201.18 221.6,201.40 222.1,201.74 222.6,202.25 223.1,202.96 223.6,203.72 224.1,204.65 224.6,205.63 225.1,206.69 225.6,207.72 226.1,208.82 226.6,209.70 227.1,210.63 227.6,211.52 228.1,212.19 228.6,212.65 229.1,213.20 229.6,213.73 230.1,213.95 230.6,214.13 231.1,214.45 231.6,214.79 232.1,214.86 232.6,214.96 233.1,215.16 233.6,215.05 234.1,215.43 234.6,215.25 235.1,215.24 235.6,215.50 236.1,215.21 236.6,215.28 237.1,215.34 237.6,215.26 238.1,215.33 238.6,215.43 239.1,215.40 239.6,215.38 240.1,215.49 240.6,215.58 241.1,215.55 241.6,215.19 242.1,215.53 242.6,215.47 243.1,215.44 243.6,215.30 244.1,215.35 244.6,215.37 245.1,215.25 245.6,215.51 246.1,215.47 246.6,215.37 247.1,215.27 247.6,215.50 248.1,215.42 248.6,215.45 249.1,215.30 249.6,215.57 250.1,215.31 250.6,215.50 251.1,215.09 251.6,215.31 252.1,215.27 252.6,215.00 253.1,215.16 253.6,215.09 254.1,215.04 254.6,215.08 255.1,215.01 255.6,215.13 256.1,215.10 256.6,215.04 257.1,214.87 257.6,214.83 258.1,214.94 258.6,214.61 259.1,214.46 259.6,214.15 260.1,213.92 260.6,213.49 261.1,212.86 261.6,212.01 262.1,211.00 262.6,209.59 263.1,208.08 263.6,206.02 264.1,203.95 264.6,201.60 265.1,198.81 265.6,196.32 266.1,193.64 266.6,191.07 267.1,188.98 267.6,187.49 268.1,186.75 268.4,186.77 268.6,186.85 269.1,187.70 269.6,189.24 270.1,190.96 270.6,193.17 271.1,195.80 271.6,198.33 272.1,200.91 272.6,203.05 273.1,204.90 273.6,205.68 274.1,206.22 274.6,206.05 275.1,205.55 275.6,205.05 276.1,205.37 276.2,205.19 276.6,205.98 277.1,207.53 277.6,209.26 278.1,211.13 278.6,212.24 279.1,213.37 279.6,214.01 280.1,214.45 280.6,214.78 281.1,214.76 281.6,214.70 282.1,214.96 282.6,214.89 283.1,215.10 283.6,215.09 284.1,215.30 284.6,215.16 285.1,215.04 285.6,215.18 286.1,215.26 286.6,215.17 287.1,215.16 287.6,215.14 288.1,215.13 288.6,215.08 289.1,215.29 289.6,215.20 290.1,215.00 290.6,215.23 291.1,215.10 291.6,215.07 292.1,214.98 292.6,214.91 293.1,214.26 293.6,213.91 294.1,213.01 294.6,211.48 295.1,209.35 295.6,207.04 296.1,204.82 296.6,203.11 297.1,202.05 297.1,202.19 297.6,202.94 298.1,204.73 298.6,207.12 299.1,209.54 299.6,211.51 300.1,212.78 300.6,213.88 301.1,214.40 301.6,214.83 302.1,215.16 302.6,215.21 303.1,215.40 303.6,215.34 304.1,215.34 304.6,215.36 305.1,215.21 305.6,215.28 306.1,215.36 306.6,215.39 307.1,215.38 307.6,215.24 308.1,215.23 308.6,215.23 309.1,215.53 309.6,215.34 310.1,215.44 310.6,215.36 311.1,215.35 311.6,215.34 312.1,215.33 312.6,215.38 313.1,215.45 313.6,215.25 314.1,215.38 314.6,215.35 315.1,215.34 315.6,215.45 316.1,215.54 316.6,215.25 317.1,215.40 317.6,215.49 318.1,215.47 318.6,215.22 319.1,215.43 319.6,215.34 320.1,215.34 320.6,215.46 321.1,215.28 321.6,215.41 322.1,215.47 322.6,215.32 323.1,215.28 323.6,215.60 324.1,215.28 324.6,215.51 325.1,215.31 325.6,215.40 326.1,215.33 326.6,215.39 327.1,215.39 327.6,215.27 328.1,215.36 328.6,215.47 329.1,215.30 329.6,215.15 330.1,215.40 330.6,215.29" fill="none" stroke="#1a1a1a" stroke-width="1.4" stroke-linejoin="round"/>
<polyline points="204.6,275.25 205.1,275.18 205.6,275.36 206.1,275.18 206.6,275.50 207.1,275.39 207.6,275.26 208.1,275.35 208.6,275.45 209.1,275.57 209.6,275.19 210.1,275.39 210.6,275.33 211.1,275.25 211.6,275.38 212.1,275.32 212.6,275.37 213.1,275.20 213.6,275.24 214.1,275.27 214.6,275.21 215.1,275.19 215.6,275.07 216.1,275.11 216.6,275.05 217.1,274.93 217.6,274.80 218.1,274.68 218.6,274.30 219.1,274.11 219.6,273.61 220.1,273.13 220.6,272.50 221.1,271.91 221.6,271.13 222.1,270.25 222.6,269.39 223.1,268.84 223.6,268.04 224.1,267.36 224.6,267.18 224.9,267.11 225.1,267.20 225.6,267.32 226.1,267.71 226.6,268.54 227.1,268.95 227.6,269.82 228.1,270.73 228.6,271.52 229.1,272.28 229.6,272.93 230.1,273.58 230.6,273.77 231.1,274.58 231.6,274.62 232.1,274.69 232.6,274.87 233.1,274.99 233.6,274.89 234.1,275.21 234.6,275.10 235.1,275.19 235.6,275.15 236.1,275.22 236.6,275.29 237.1,275.17 237.6,275.46 238.1,275.19 238.6,275.27 239.1,275.32 239.6,275.39 240.1,275.35 240.6,275.33 241.1,275.38 241.6,275.36 242.1,275.23 242.6,275.38 243.1,275.26 243.6,275.20 244.1,275.30 244.6,275.26 245.1,275.33 245.6,275.32 246.1,275.23 246.6,275.31 247.1,275.27 247.6,275.10 248.1,275.40 248.6,275.24 249.1,275.21 249.6,275.30 250.1,275.05 250.6,275.11 251.1,275.25 251.6,274.95 252.1,275.03 252.6,275.26 253.1,275.12 253.6,274.93 254.1,275.00 254.6,275.03 255.1,274.83 255.6,274.86 256.1,274.82 256.6,274.71 257.1,274.76 257.6,274.49 258.1,274.31 258.6,274.14 259.1,273.82 259.6,273.44 260.1,273.08 260.6,272.51 261.1,272.09 261.6,271.31 262.1,270.08 262.6,268.67 263.1,267.55 263.6,266.09 264.1,264.20 264.6,262.39 265.1,260.30 265.6,257.98 266.1,255.77 266.6,253.47 267.1,251.39 267.6,249.37 268.1,247.73 268.6,246.57 269.1,245.44 269.6,245.05 270.1,244.88 270.6,245.00 271.1,245.80 271.6,246.71 272.1,247.83 272.6,249.28 273.1,250.95 273.5,252.22 273.6,252.38 274.1,253.99 274.6,255.71 275.1,257.38 275.6,259.05 276.1,260.38 276.6,261.77 277.1,263.20 277.6,264.26 278.1,265.59 278.6,266.70 279.1,267.44 279.6,268.59 280.1,269.24 280.6,270.00 281.1,270.63 281.6,271.21 282.1,271.71 282.6,272.08 283.1,272.31 283.6,272.89 284.1,273.02 284.6,273.24 285.1,273.30 285.6,273.41 286.1,273.22 286.6,272.99 287.1,273.03 287.6,272.50 288.1,271.89 288.6,271.22 289.1,270.36 289.6,268.96 290.1,267.90 290.6,266.58 291.1,265.09 291.6,263.32 292.1,261.70 292.6,259.87 293.1,258.30 293.6,256.62 294.1,255.50 294.6,254.73 295.1,253.84 295.4,253.86 295.6,253.64 296.1,253.90 296.6,254.85 297.1,255.48 297.6,256.76 298.1,258.12 298.6,259.38 299.1,261.16 299.6,262.75 300.1,263.99 300.6,265.33 301.1,266.59 301.5,267.60 301.6,267.67 302.1,268.80 302.6,269.61 303.1,270.07 303.6,270.73 304.1,271.38 304.6,271.75 305.1,272.31 305.6,272.70 306.1,272.82 306.6,273.26 307.1,273.48 307.6,273.65 308.1,273.96 308.6,274.02 309.1,274.28 309.6,274.35 310.1,274.48 310.6,274.88 311.1,275.02 311.6,275.00 312.1,275.20 312.6,275.16 313.1,275.22 313.6,275.43 314.1,275.60 314.6,275.51 315.1,275.58 315.6,275.62 316.1,275.58 316.6,275.52 317.1,275.75 317.6,275.64 318.1,275.97 318.6,275.85 319.1,275.92 319.6,275.96 320.1,275.79 320.6,275.80 321.1,276.07 321.6,275.99 322.1,275.97 322.6,276.05 323.1,275.78 323.6,276.10 324.1,276.03 324.6,276.07 325.1,276.10 325.6,276.25 326.1,276.13 326.6,276.06 327.1,275.99 327.6,276.35 328.1,275.90 328.6,276.07 329.1,276.08 329.6,276.02 330.1,276.05 330.6,276.10" fill="none" stroke="#1a1a1a" stroke-width="1.4" stroke-linejoin="round"/>
<polyline points="204.6,331.52 205.1,331.67 205.6,331.69 206.1,331.58 206.6,331.59 207.1,331.50 207.6,331.45 208.1,331.45 208.6,331.44 209.1,331.63 209.6,331.53 210.1,331.55 210.6,331.47 211.1,331.43 211.6,331.41 212.1,331.45 212.6,331.59 213.1,331.53 213.6,331.48 214.1,331.50 214.6,331.38 215.1,331.64 215.6,331.40 216.1,331.52 216.6,331.73 217.1,331.26 217.6,331.37 218.1,331.44 218.6,331.52 219.1,331.33 219.6,331.48 220.1,331.50 220.6,331.52 221.1,331.26 221.6,331.56 222.1,331.65 222.6,331.53 223.1,331.41 223.6,331.42 224.1,331.21 224.6,331.52 225.1,331.62 225.6,331.53 226.1,331.16 226.6,331.41 227.1,331.43 227.6,331.38 228.1,331.52 228.6,331.22 229.1,331.29 229.6,331.37 230.1,331.33 230.6,331.13 231.1,331.04 231.6,330.74 232.1,330.27 232.6,330.12 233.1,329.52 233.6,328.99 234.1,328.83 234.6,328.72 235.1,328.55 235.1,328.55 235.6,328.57 236.1,328.57 236.6,329.26 237.1,329.62 237.6,329.75 238.1,330.32 238.6,330.60 239.1,331.03 239.6,331.11 240.1,331.24 240.6,331.31 241.1,331.20 241.6,331.16 242.1,331.38 242.6,331.36 243.1,331.39 243.6,331.38 244.1,331.35 244.6,331.46 245.1,331.42 245.6,331.34 246.1,331.22 246.6,331.15 247.1,331.26 247.6,331.39 248.1,331.50 248.6,331.36 249.1,331.47 249.6,331.52 250.1,331.64 250.6,331.43 251.1,331.55 251.6,331.42 252.1,331.27 252.6,331.17 253.1,331.42 253.6,331.48 254.1,331.64 254.6,331.32 255.1,331.43 255.6,331.37 256.1,331.14 256.6,331.41 257.1,331.34 257.6,331.24 258.1,331.54 258.6,331.30 259.1,331.41 259.6,331.33 260.1,331.28 260.6,331.34 261.1,331.43 261.6,331.28 262.1,331.18 262.6,331.52 263.1,331.38 263.6,331.23 264.1,331.32 264.6,331.16 265.1,331.31 265.6,331.40 266.1,331.11 266.6,331.38 267.1,331.37 267.6,331.26 268.1,331.29 268.6,331.24 269.1,331.22 269.6,331.07 270.1,331.41 270.6,331.17 271.1,331.24 271.6,331.19 272.1,331.25 272.6,331.25 273.1,331.08 273.6,331.20 274.1,331.12 274.6,331.04 275.1,331.24 275.6,331.21 276.1,330.98 276.6,331.02 277.1,330.92 277.6,330.87 278.1,330.86 278.6,330.97 279.1,330.73 279.6,330.68 280.1,330.80 280.6,330.64 281.1,330.76 281.6,330.46 282.1,330.40 282.6,330.23 283.1,329.89 283.6,329.90 284.1,329.54 284.6,328.99 285.1,328.01 285.6,326.82 286.1,324.94 286.6,322.51 287.1,319.30 287.6,315.56 288.1,311.16 288.6,306.77 289.1,302.35 289.6,298.86 290.1,297.00 290.4,296.75 290.6,296.84 291.1,298.84 291.6,302.33 292.1,306.72 292.6,311.28 293.1,315.62 293.6,319.32 294.1,322.40 294.6,324.78 295.1,326.73 295.6,327.95 296.1,328.91 296.6,329.54 297.1,330.03 297.6,330.00 298.1,330.33 298.6,330.24 299.1,330.62 299.6,330.47 300.1,330.65 300.6,330.62 301.1,330.93 301.6,330.88 302.1,330.95 302.6,330.88 303.1,330.97 303.6,330.85 304.1,330.93 304.6,331.14 305.1,330.84 305.6,331.05 306.1,331.18 306.6,331.18 307.1,331.15 307.6,331.10 308.1,331.25 308.6,331.09 309.1,331.13 309.6,330.97 310.1,331.18 310.6,331.12 311.1,331.16 311.6,330.94 312.1,331.05 312.6,331.16 313.1,331.06 313.6,331.25 314.1,331.40 314.6,331.19 315.1,331.24 315.6,331.15 316.1,331.15 316.6,331.06 317.1,331.26 317.6,331.07 318.1,331.16 318.6,331.15 319.1,331.09 319.6,331.14 320.1,331.20 320.6,331.31 321.1,331.21 321.6,331.34 322.1,331.24 322.6,331.23 323.1,331.26 323.6,331.18 324.1,331.30 324.6,331.23 325.1,331.23 325.6,331.39 326.1,331.13 326.6,331.12 327.1,331.21 327.6,331.25 328.1,331.19 328.6,331.31 329.1,331.25 329.6,331.25 330.1,331.09 330.6,331.38" fill="none" stroke="#1a1a1a" stroke-width="1.4" stroke-linejoin="round"/>
<polyline points="204.6,384.50 205.1,384.52 205.6,384.51 206.1,384.58 206.6,384.78 207.1,384.47 207.6,384.73 208.1,384.76 208.6,384.59 209.1,384.55 209.6,384.67 210.1,384.74 210.6,384.83 211.1,384.70 211.6,384.76 212.1,384.55 212.6,384.51 213.1,384.41 213.6,384.46 214.1,384.53 214.6,384.58 215.1,384.41 215.6,384.61 216.1,384.49 216.6,384.41 217.1,384.37 217.6,384.60 218.1,384.36 218.6,384.19 219.1,384.10 219.6,384.28 220.1,383.92 220.6,383.95 221.1,383.80 221.6,383.23 222.1,383.38 222.6,382.97 223.1,382.61 223.6,382.37 224.1,382.16 224.6,381.82 225.1,381.49 225.6,381.04 226.1,380.92 226.6,380.65 227.1,380.43 227.6,380.13 228.1,380.06 228.6,380.00 229.0,379.84 229.1,379.86 229.6,379.88 230.1,380.00 230.6,380.21 231.1,380.19 231.6,380.61 232.1,380.99 232.6,381.06 233.1,381.45 233.6,382.08 234.1,382.14 234.6,382.50 235.1,382.87 235.6,383.04 236.1,383.23 236.6,383.47 237.1,383.66 237.6,383.79 238.1,384.00 238.6,384.24 239.1,384.20 239.6,384.40 240.1,384.37 240.6,384.42 241.1,384.43 241.6,384.36 242.1,384.46 242.6,384.46 243.1,384.32 243.6,384.52 244.1,384.50 244.6,384.48 245.1,384.39 245.6,384.18 246.1,384.59 246.6,384.43 247.1,384.21 247.6,384.49 248.1,384.35 248.6,384.48 249.1,384.39 249.6,384.50 250.1,384.40 250.6,384.39 251.1,384.36 251.6,384.45 252.1,384.18 252.6,384.41 253.1,384.34 253.6,384.19 254.1,384.22 254.6,384.14 255.1,384.14 255.6,384.18 256.1,383.95 256.6,384.00 257.1,383.90 257.6,383.71 258.1,383.59 258.6,383.15 259.1,382.87 259.6,382.57 260.1,381.73 260.6,380.97 261.1,380.08 261.6,379.06 262.1,377.70 262.6,376.33 263.1,374.63 263.6,373.07 264.1,371.40 264.6,369.75 265.1,368.29 265.6,367.09 266.1,365.96 266.6,365.23 267.0,365.18 267.1,365.17 267.6,365.24 268.1,366.04 268.6,366.89 269.1,368.15 269.6,369.49 270.1,371.02 270.6,372.16 271.1,373.35 271.6,374.30 272.1,374.99 272.6,375.28 273.1,374.97 273.6,374.75 274.1,373.88 274.6,372.89 275.1,371.57 275.6,369.96 276.1,368.51 276.6,367.04 277.1,365.85 277.6,365.03 278.1,364.32 278.4,364.13 278.6,364.48 279.1,364.52 279.6,365.46 280.1,366.65 280.6,367.99 281.1,369.80 281.6,371.47 282.1,372.94 282.6,374.41 283.1,375.62 283.6,376.43 284.1,377.29 284.6,377.45 285.1,377.41 285.6,377.07 286.1,376.22 286.6,374.71 287.1,373.14 287.6,371.00 288.1,368.24 288.6,365.26 289.1,362.07 289.6,358.61 290.1,355.14 290.6,351.98 291.1,348.98 291.6,346.34 292.1,344.50 292.6,343.46 292.9,343.28 293.1,343.31 293.6,344.05 294.1,345.91 294.6,348.08 295.1,350.92 295.6,354.19 296.1,357.19 296.6,360.51 297.1,363.38 297.6,366.27 298.1,368.93 298.6,371.02 299.1,372.75 299.6,374.27 300.1,375.69 300.6,376.57 301.1,377.53 301.5,378.03 301.6,378.09 302.1,378.67 302.6,379.22 303.1,379.57 303.6,379.86 304.1,380.35 304.6,380.63 305.1,380.97 305.6,381.37 306.1,381.64 306.6,381.99 307.1,382.14 307.6,382.36 308.1,382.60 308.6,382.89 309.1,382.96 309.6,383.18 310.1,383.29 310.6,383.44 311.1,383.62 311.6,383.98 312.1,383.81 312.6,383.95 313.1,384.01 313.6,384.05 314.1,384.13 314.6,384.37 315.1,384.19 315.6,384.42 316.1,384.36 316.6,384.24 317.1,384.29 317.6,384.33 318.1,384.29 318.6,384.53 319.1,384.48 319.6,384.51 320.1,384.38 320.6,384.54 321.1,384.46 321.6,384.76 322.1,384.53 322.6,384.58 323.1,384.60 323.6,384.53 324.1,384.54 324.6,384.55 325.1,384.69 325.6,384.54 326.1,384.60 326.6,384.66 327.1,384.60 327.6,384.51 328.1,384.54 328.6,384.62 329.1,384.57 329.6,384.77 330.1,384.68 330.6,384.68" fill="none" stroke="#1a1a1a" stroke-width="1.4" stroke-linejoin="round"/>
<polyline points="381.4,125.57 381.9,125.41 382.4,125.18 382.9,125.32 383.4,125.29 383.9,125.30 384.4,125.42 384.9,125.13 385.4,125.47 385.9,125.15 386.4,125.28 386.9,125.44 387.4,125.40 387.9,125.19 388.4,125.55 388.9,125.33 389.4,125.13 389.9,125.27 390.4,125.14 390.9,125.32 391.4,125.05 391.9,125.31 392.4,124.97 392.9,125.39 393.4,125.26 393.9,125.42 394.4,125.10 394.9,124.89 395.4,124.99 395.9,125.15 396.4,125.47 396.9,125.25 397.4,125.36 397.9,125.02 398.4,125.06 398.9,125.08 399.4,125.30 399.9,125.03 400.4,125.06 400.9,125.33 401.4,124.94 401.9,125.06 402.4,124.85 402.9,125.00 403.4,125.14 403.9,125.18 404.4,124.77 404.9,124.58 405.4,125.02 405.9,125.17 406.4,124.79 406.9,124.91 407.4,124.85 407.9,124.50 408.4,124.39 408.9,124.75 409.4,124.80 409.9,124.47 410.4,124.61 410.9,124.50 411.4,124.44 411.9,124.35 412.4,124.67 412.9,124.45 413.4,124.36 413.9,124.27 414.4,124.35 414.9,124.16 415.4,124.20 415.9,124.00 416.4,124.10 416.9,123.93 417.4,124.00 417.9,123.60 418.4,123.64 418.9,123.50 419.4,123.84 419.9,123.43 420.4,123.43 420.9,123.10 421.4,123.13 421.9,122.93 422.4,123.08 422.9,122.86 423.4,123.14 423.9,122.69 424.4,122.88 424.9,122.62 425.4,122.63 425.9,122.32 426.4,122.36 426.9,122.26 427.4,122.07 427.9,122.19 428.4,121.80 428.9,121.91 429.4,121.83 429.9,121.80 430.4,121.54 430.9,121.75 431.4,121.45 431.9,121.43 432.4,121.32 432.9,121.35 433.4,121.42 433.9,121.76 434.4,120.89 434.9,121.40 435.4,121.37 435.9,121.44 436.4,121.24 436.5,121.27 436.9,121.47 437.4,121.22 437.9,121.23 438.4,121.22 438.9,121.30 439.4,121.52 439.9,121.15 440.4,121.49 440.9,121.00 441.4,121.46 441.9,121.36 442.4,121.66 442.9,121.64 443.4,121.68 443.9,121.70 444.4,121.71 444.9,121.39 445.4,121.77 445.9,121.54 446.4,121.90 446.9,121.61 447.4,121.65 447.9,121.48 448.4,121.42 448.9,121.22 449.4,120.99 449.9,120.35 450.4,120.31 450.9,119.34 451.4,118.79 451.9,117.60 452.4,117.12 452.9,116.18 453.4,115.07 453.9,113.74 454.4,112.44 454.9,110.93 455.4,109.62 455.9,108.32 456.4,107.10 456.9,105.73 457.4,104.75 457.9,103.93 458.4,103.10 458.4,103.01 458.9,102.21 459.4,101.79 459.9,101.29 460.4,101.06 460.9,100.44 461.4,100.18 461.9,99.39 462.4,99.36 462.9,98.31 463.4,97.85 463.9,97.06 464.4,96.23 464.9,95.42 465.4,94.53 465.9,93.80 466.4,93.06 466.9,92.54 467.4,92.06 467.9,91.83 468.4,91.55 468.7,91.42 468.9,91.98 469.4,92.12 469.9,92.30 470.4,93.69 470.9,94.65 471.4,95.85 471.9,97.30 472.4,98.94 472.9,100.40 473.4,102.16 473.9,103.66 474.4,105.15 474.9,106.61 475.4,107.80 475.9,109.03 476.4,109.71 476.9,110.16 477.4,110.78 477.9,111.35 478.4,111.53 478.9,111.26 479.4,111.54 479.9,111.44 480.4,111.61 480.9,111.67 481.1,111.75 481.4,112.23 481.9,112.84 482.4,113.53 482.9,114.08 483.4,114.99 483.9,115.90 484.4,116.70 484.9,117.12 485.4,118.14 485.9,118.99 486.4,119.66 486.9,119.95 487.4,120.67 487.9,120.41 488.4,121.32 488.9,121.22 489.4,121.48 489.9,121.45 490.4,121.49 490.9,121.68 491.4,121.77 491.9,121.61 492.4,121.92 492.9,121.75 493.4,121.84 493.5,121.73 493.9,121.75 494.4,121.86 494.9,121.68 495.4,122.01 495.9,121.74 496.4,122.02 496.9,121.82 497.4,122.00 497.9,121.96 498.4,122.29 498.9,122.41 499.4,122.13 499.9,122.31 500.4,122.32 500.9,122.43 501.4,122.51 501.9,122.65 502.4,122.39 502.9,122.08 503.4,122.39 503.9,122.10 504.4,121.94 504.9,121.87 505.4,121.56 505.9,120.91 506.4,120.61 506.9,120.01 507.4,119.65 507.9,119.22 508.4,119.37 508.4,119.08 508.9,119.33 509.4,119.83 509.9,120.05 510.4,120.82 510.9,121.40 511.4,121.98 511.9,122.57 512.4,122.36 512.9,123.11 513.4,123.24 513.9,123.51 514.4,123.55 514.9,123.43 515.4,123.51 515.9,123.49 516.4,123.86 516.9,123.61 517.4,123.77 517.9,123.71 518.4,123.45 518.9,123.73 519.4,123.76 519.9,124.02 520.4,123.78 520.9,123.65 521.4,123.74 521.9,123.96 522.4,123.93 522.9,123.93 523.4,123.95 523.9,123.73 524.4,123.99 524.9,123.91 525.4,123.54 525.9,123.77 526.4,124.06 526.9,123.78 527.4,123.80 527.9,123.87 528.4,123.88 528.9,123.86 529.4,123.94 529.9,123.74 530.4,123.63 530.9,123.85 531.4,123.84 531.9,124.00 532.4,124.16 532.9,123.92 533.4,123.98 533.9,124.10 534.4,123.97 534.9,123.95 535.4,123.70 535.9,123.78 536.4,123.72 536.9,123.77 537.4,123.98 537.9,123.92 538.4,123.82 538.9,123.49 539.4,123.90 539.9,123.89 540.4,123.63 540.9,123.81 541.4,123.75 541.9,123.89 542.4,123.48 542.9,123.59 543.4,123.98 543.9,123.62 544.4,123.65 544.9,123.70 545.4,123.80 545.9,123.95 546.4,123.74 546.9,123.89 547.4,123.81 547.9,123.66 548.4,123.98" fill="none" stroke="#1a1a1a" stroke-width="1.3" stroke-linejoin="round"/>
<polyline points="381.4,186.41 381.9,186.30 382.4,186.72 382.9,186.75 383.4,186.73 383.9,186.55 384.4,186.58 384.9,186.55 385.4,186.72 385.9,186.66 386.4,186.58 386.9,186.64 387.4,186.70 387.9,186.60 388.4,186.45 388.9,186.55 389.4,186.51 389.9,186.39 390.4,186.34 390.9,186.56 391.4,186.43 391.9,186.58 392.4,186.45 392.9,186.61 393.4,186.61 393.9,186.56 394.4,186.40 394.9,186.31 395.4,186.72 395.9,186.50 396.4,186.71 396.9,186.47 397.4,186.37 397.9,186.49 398.4,186.36 398.9,186.48 399.4,186.64 399.9,186.56 400.4,186.78 400.9,186.50 401.4,186.49 401.9,186.36 402.4,186.35 402.9,186.47 403.4,186.35 403.9,186.40 404.4,186.40 404.9,186.31 405.4,186.65 405.9,186.22 406.4,186.42 406.9,186.50 407.4,186.51 407.9,186.35 408.4,186.28 408.9,186.63 409.4,186.59 409.9,186.38 410.4,186.36 410.9,186.37 411.4,186.23 411.9,186.34 412.4,186.45 412.9,186.40 413.4,186.22 413.9,186.39 414.4,186.22 414.9,186.13 415.4,186.33 415.9,186.35 416.4,186.42 416.9,186.18 417.4,186.36 417.9,186.30 418.4,186.26 418.9,186.18 419.4,186.19 419.9,186.25 420.4,186.23 420.9,186.06 421.4,186.10 421.9,186.14 422.4,186.24 422.9,186.17 423.4,186.10 423.9,186.06 424.4,186.23 424.9,186.00 425.4,185.94 425.9,185.95 426.4,186.01 426.9,185.94 427.4,185.86 427.9,185.83 428.4,185.90 428.9,185.85 429.4,185.79 429.9,185.61 430.4,185.66 430.9,185.72 431.4,185.46 431.9,185.64 432.4,185.42 432.9,185.41 433.4,185.12 433.9,185.28 434.4,185.04 434.9,184.97 435.4,184.88 435.9,184.85 436.4,184.54 436.9,184.48 437.4,184.29 437.9,183.96 438.4,183.83 438.9,183.64 439.4,183.59 439.9,183.44 440.4,183.28 440.9,183.13 441.4,182.85 441.9,182.49 442.4,182.59 442.9,182.21 443.4,181.92 443.9,181.61 444.4,181.62 444.9,181.20 445.4,181.27 445.9,180.97 446.4,180.58 446.9,180.53 447.4,180.58 447.9,180.04 448.4,180.03 448.9,179.73 449.4,179.83 449.9,179.88 450.4,179.58 450.5,179.55 450.9,179.46 451.4,179.37 451.9,179.27 452.4,179.28 452.9,179.22 453.4,178.76 453.9,178.59 454.4,178.81 454.9,178.61 455.4,178.11 455.9,177.92 456.4,177.61 456.9,177.18 457.4,176.57 457.9,175.94 458.4,175.15 458.9,174.43 459.4,173.46 459.9,172.50 460.4,171.52 460.5,171.29 460.9,170.64 461.4,169.59 461.9,168.54 462.4,167.38 462.9,166.32 463.4,165.02 463.9,163.56 464.4,162.04 464.9,160.80 465.4,159.38 465.9,158.13 466.4,156.60 466.9,155.13 467.4,153.96 467.9,152.42 468.4,151.38 468.9,150.47 469.4,149.59 469.9,148.96 470.4,148.62 470.9,148.37 471.2,148.50 471.4,148.23 471.9,148.73 472.4,149.33 472.9,149.79 473.4,150.64 473.9,151.81 474.4,152.98 474.9,154.37 475.4,155.71 475.9,157.31 476.4,158.94 476.9,160.27 477.4,162.14 477.9,163.84 478.4,165.29 478.9,166.88 479.4,168.64 479.9,169.98 480.4,171.50 480.9,172.90 481.4,174.18 481.9,175.12 482.4,176.41 482.9,177.34 483.4,178.12 483.9,179.21 484.4,180.03 484.9,180.60 485.4,181.31 485.9,181.84 486.4,182.31 486.9,182.53 487.4,183.15 487.9,183.27 488.4,183.54 488.9,183.86 489.4,184.27 489.9,184.39 490.4,184.62 490.9,184.58 491.4,184.78 491.9,184.78 492.4,184.85 492.9,185.02 493.4,185.02 493.9,184.89 494.4,185.17 494.9,185.09 495.4,185.37 495.9,185.21 496.4,185.25 496.9,185.09 497.4,185.36 497.9,185.32 498.4,185.16 498.9,185.23 499.4,185.13 499.9,185.45 500.4,185.12 500.9,185.35 501.4,185.12 501.9,185.45 502.4,185.34 502.9,185.24 503.4,185.10 503.9,185.02 504.4,185.08 504.9,184.98 505.4,184.73 505.9,184.80 506.4,184.51 506.9,184.06 507.4,183.57 507.9,182.89 508.4,181.97 508.9,180.83 509.4,179.75 509.9,178.68 510.4,178.61 510.4,178.40 510.9,178.39 511.4,179.07 511.9,179.51 512.4,180.26 512.9,180.43 513.4,180.85 513.9,180.71 514.4,180.50 514.9,180.17 515.4,179.63 515.9,178.84 516.4,178.16 516.9,174.36 517.4,159.20 517.5,156.78 517.9,140.66 518.0,140.10 518.4,150.47 518.9,170.84 519.4,178.39 519.9,180.24 520.4,180.78 520.9,181.49 521.4,181.94 521.9,182.35 522.4,182.92 522.9,183.21 523.4,183.70 523.9,183.97 524.4,184.15 524.9,184.30 525.4,184.50 525.9,184.59 526.4,184.76 526.9,184.90 527.4,185.02 527.9,185.03 528.4,185.15 528.9,185.09 529.4,185.27 529.9,185.50 530.4,185.38 530.9,185.38 531.4,185.40 531.9,185.34 532.4,185.53 532.9,185.59 533.4,185.57 533.9,185.52 534.4,185.60 534.9,185.58 535.4,185.76 535.9,185.61 536.4,185.76 536.9,185.62 537.4,185.61 537.9,185.71 538.4,185.73 538.9,185.68 539.4,185.84 539.9,185.61 540.4,185.74 540.9,185.77 541.4,185.70 541.9,185.81 542.4,185.64 542.9,185.65 543.4,185.82 543.9,185.82 544.4,185.92 544.9,185.86 545.4,185.83 545.9,185.85 546.4,185.87 546.9,185.70 547.4,185.89 547.9,185.82 548.4,185.90" fill="none" stroke="#1a1a1a" stroke-width="1.3" stroke-linejoin="round"/>
<polyline points="381.4,258.03 381.9,258.03 382.4,258.02 382.9,258.02 383.4,258.02 383.9,258.02 384.4,258.02 384.9,258.02 385.4,258.02 385.9,258.02 386.4,258.01 386.9,258.01 387.4,258.01 387.9,258.01 388.4,258.01 388.9,258.01 389.4,258.01 389.9,258.00 390.4,258.00 390.9,258.00 391.4,258.00 391.9,258.00 392.4,258.00 392.9,257.99 393.4,257.99 393.9,257.99 394.4,257.99 394.9,257.99 395.4,257.99 395.9,257.98 396.4,257.98 396.9,257.98 397.4,257.98 397.9,257.98 398.4,257.97 398.9,257.97 399.4,257.97 399.9,257.97 400.4,257.97 400.9,257.96 401.4,257.96 401.9,257.96 402.4,257.96 402.9,257.95 403.4,257.95 403.9,257.95 404.4,257.95 404.9,257.94 405.4,257.94 405.9,257.94 406.4,257.94 406.9,257.93 407.4,257.93 407.9,257.93 408.4,257.92 408.9,257.92 409.4,257.92 409.9,257.91 410.4,257.91 410.9,257.91 411.4,257.90 411.9,257.90 412.4,257.90 412.9,257.89 413.4,257.89 413.9,257.88 414.4,257.88 414.9,257.87 415.4,257.87 415.9,257.87 416.4,257.86 416.9,257.85 417.4,257.85 417.9,257.84 418.4,257.84 418.9,257.83 419.4,257.83 419.9,257.82 420.4,257.81 420.9,257.80 421.4,257.80 421.9,257.79 422.4,257.78 422.9,257.77 423.4,257.76 423.9,257.75 424.4,257.74 424.9,257.73 425.4,257.72 425.9,257.70 426.4,257.69 426.9,257.67 427.4,257.65 427.9,257.63 428.4,257.60 428.9,257.56 429.4,257.52 429.9,257.47 430.4,257.40 430.9,257.32 431.4,257.21 431.9,257.09 432.4,256.93 432.9,256.75 433.4,256.54 433.9,256.29 434.4,256.01 434.9,255.71 435.4,255.38 435.9,255.05 436.4,254.70 436.9,254.38 437.4,254.07 437.9,253.82 438.4,253.62 438.9,253.51 439.2,253.49 439.4,253.49 439.9,253.55 440.4,253.70 440.9,253.92 441.4,254.18 441.9,254.47 442.4,254.78 442.9,255.09 443.4,255.39 443.9,255.66 444.4,255.91 444.9,256.13 445.4,256.31 445.9,256.46 446.4,256.58 446.9,256.67 447.4,256.74 447.9,256.78 448.4,256.80 448.9,256.80 449.4,256.79 449.9,256.76 450.4,256.72 450.9,256.67 451.4,256.60 451.9,256.52 452.4,256.42 452.9,256.30 453.4,256.16 453.9,255.99 454.4,255.80 454.9,255.56 455.4,255.29 455.9,254.97 456.4,254.60 456.9,254.16 457.4,253.66 457.9,253.09 458.4,252.43 458.9,251.69 459.4,250.86 459.9,249.94 460.4,248.92 460.9,247.80 461.4,246.59 461.9,245.30 462.4,243.92 462.9,242.47 463.4,240.97 463.9,239.44 464.4,237.88 464.9,236.34 465.4,234.83 465.9,233.40 466.4,232.06 466.9,230.87 467.4,229.85 467.9,229.05 468.4,228.48 468.9,228.17 469.1,228.12 469.4,228.13 469.9,228.37 470.4,228.87 470.9,229.60 471.4,230.55 471.9,231.67 472.4,232.93 472.9,234.29 473.4,235.72 473.9,237.19 474.4,238.66 474.9,240.12 475.4,241.55 475.9,242.92 476.4,244.21 476.9,245.43 477.4,246.57 477.9,247.60 478.4,248.55 478.9,249.40 479.4,250.15 479.9,250.82 480.4,251.40 480.9,251.90 481.4,252.33 481.9,252.69 482.4,253.00 482.9,253.25 483.4,253.46 483.9,253.63 484.4,253.77 484.9,253.88 485.4,253.97 485.9,254.04 486.4,254.09 486.9,254.14 487.4,254.17 487.9,254.20 488.4,254.23 488.9,254.25 489.4,254.28 489.9,254.30 490.4,254.32 490.9,254.35 491.4,254.37 491.5,254.38 491.9,254.40 492.4,254.44 492.9,254.47 493.4,254.51 493.9,254.55 494.4,254.60 494.9,254.65 495.4,254.70 495.9,254.75 496.4,254.81 496.9,254.87 497.4,254.93 497.9,254.99 498.4,255.06 498.9,255.12 499.4,255.19 499.9,255.26 500.4,255.33 500.9,255.40 501.4,255.47 501.9,255.54 502.4,255.61 502.9,255.68 503.4,255.75 503.9,255.82 504.4,255.89 504.9,255.95 505.4,256.02 505.9,256.08 506.4,256.15 506.9,256.21 507.4,256.27 507.9,256.33 508.4,256.38 508.9,256.44 509.4,256.49 509.9,256.54 510.4,256.59 510.9,256.63 511.4,256.67 511.9,256.71 512.4,256.74 512.9,256.77 513.4,256.79 513.9,256.79 514.4,256.78 514.9,256.73 515.4,256.63 515.9,256.42 516.4,255.94 516.9,253.86 517.4,197.43 517.9,19.60 518.4,197.49 518.9,253.98 519.4,256.12 519.9,256.66 520.4,256.94 520.9,257.10 521.4,257.20 521.9,257.28 522.4,257.34 522.9,257.38 523.4,257.42 523.9,257.46 524.4,257.48 524.9,257.51 525.4,257.53 525.9,257.55 526.4,257.57 526.9,257.59 527.4,257.60 527.9,257.62 528.4,257.63 528.9,257.64 529.4,257.66 529.9,257.67 530.4,257.68 530.9,257.69 531.4,257.70 531.9,257.71 532.4,257.71 532.9,257.72 533.4,257.73 533.9,257.74 534.4,257.74 534.9,257.75 535.4,257.76 535.9,257.76 536.4,257.77 536.9,257.77 537.4,257.78 537.9,257.78 538.4,257.79 538.9,257.79 539.4,257.80 539.9,257.80 540.4,257.80 540.9,257.81 541.4,257.81 541.9,257.82 542.4,257.82 542.9,257.82 543.4,257.83 543.9,257.83 544.4,257.83 544.9,257.84 545.4,257.84 545.9,257.84 546.4,257.84 546.9,257.85 547.4,257.85 547.9,257.85 548.4,257.85" fill="none" stroke="#1a1a1a" stroke-width="1.4" stroke-linejoin="round"/>
<polyline points="381.4,323.52 381.9,323.51 382.4,323.50 382.9,323.49 383.4,323.48 383.9,323.46 384.4,323.44 384.9,323.42 385.4,323.39 385.9,323.36 386.4,323.32 386.9,323.27 387.4,323.20 387.9,323.12 388.4,323.01 388.9,322.89 389.4,322.73 389.9,322.55 390.4,322.34 390.9,322.10 391.4,321.84 391.9,321.54 392.4,321.23 392.9,320.91 393.4,320.58 393.9,320.26 394.4,319.97 394.9,319.70 395.4,319.49 395.9,319.34 396.4,319.26 396.6,319.25 396.9,319.26 397.4,319.34 397.9,319.48 398.4,319.69 398.9,319.93 399.4,320.21 399.9,320.50 400.4,320.80 400.9,321.08 401.4,321.34 401.9,321.58 402.4,321.77 402.9,321.93 403.4,322.04 403.9,322.10 404.4,322.12 404.9,322.08 405.4,322.00 405.9,321.86 406.4,321.68 406.9,321.44 407.4,321.16 407.9,320.84 408.4,320.47 408.9,320.07 409.4,319.63 409.9,319.17 410.4,318.69 410.9,318.20 411.4,317.72 411.9,317.26 412.4,316.83 412.9,316.44 413.4,316.12 413.9,315.87 414.4,315.71 414.9,315.64 415.0,315.64 415.4,315.68 415.9,315.81 416.4,316.02 416.9,316.32 417.4,316.68 417.9,317.10 418.4,317.55 418.9,318.03 419.4,318.51 419.9,318.99 420.4,319.46 420.9,319.91 421.4,320.34 421.9,320.73 422.4,321.08 422.9,321.40 423.4,321.68 423.9,321.93 424.4,322.14 424.9,322.32 425.4,322.47 425.9,322.59 426.4,322.69 426.9,322.77 427.4,322.84 427.9,322.89 428.4,322.93 428.9,322.96 429.4,322.99 429.9,323.00 430.4,323.02 430.9,323.03 431.4,323.03 431.9,323.04 432.4,323.04 432.9,323.04 433.4,323.04 433.9,323.04 434.4,323.04 434.9,323.03 435.4,323.03 435.9,323.02 436.4,323.02 436.9,323.01 437.4,323.01 437.9,323.00 438.4,322.99 438.9,322.98 439.4,322.97 439.9,322.96 440.4,322.95 440.9,322.94 441.4,322.93 441.9,322.92 442.4,322.91 442.9,322.89 443.4,322.88 443.9,322.86 444.4,322.85 444.9,322.83 445.4,322.81 445.9,322.79 446.4,322.77 446.9,322.74 447.4,322.72 447.9,322.69 448.4,322.66 448.9,322.63 449.4,322.59 449.9,322.55 450.4,322.50 450.9,322.44 451.4,322.38 451.9,322.30 452.4,322.22 452.9,322.11 453.4,321.99 453.9,321.85 454.4,321.68 454.9,321.49 455.4,321.26 455.9,320.98 456.4,320.67 456.9,320.30 457.4,319.87 457.9,319.38 458.4,318.82 458.9,318.18 459.4,317.45 459.9,316.64 460.4,315.74 460.9,314.74 461.4,313.64 461.9,312.44 462.4,311.15 462.9,309.77 463.4,308.30 463.9,306.76 464.4,305.15 464.9,303.50 465.4,301.82 465.9,300.12 466.4,298.45 466.9,296.81 467.4,295.23 467.9,293.75 468.4,292.40 468.9,291.20 469.4,290.18 469.9,289.37 470.4,288.80 470.9,288.47 471.3,288.39 471.4,288.40 471.9,288.59 472.4,289.04 472.9,289.73 473.4,290.64 473.9,291.74 474.4,293.02 474.9,294.44 475.4,295.96 475.9,297.57 476.4,299.22 476.9,300.91 477.4,302.59 477.9,304.26 478.4,305.88 478.9,307.45 479.4,308.96 479.9,310.38 480.4,311.71 480.9,312.95 481.4,314.09 481.9,315.14 482.4,316.09 482.9,316.94 483.4,317.70 483.9,318.38 484.4,318.97 484.9,319.49 485.4,319.95 485.9,320.34 486.4,320.68 486.9,320.96 487.4,321.21 487.9,321.42 488.4,321.59 488.9,321.74 489.4,321.87 489.9,321.97 490.4,322.06 490.9,322.13 491.4,322.19 491.9,322.24 492.4,322.29 492.9,322.32 493.4,322.35 493.9,322.38 494.4,322.39 494.9,322.41 495.4,322.41 495.9,322.41 496.4,322.41 496.9,322.39 497.4,322.37 497.9,322.34 498.4,322.30 498.9,322.25 499.4,322.18 499.9,322.11 500.4,322.02 500.9,321.92 501.4,321.81 501.9,321.69 502.4,321.56 502.9,321.44 503.4,321.31 503.9,321.18 504.4,321.07 504.9,320.97 505.4,320.89 505.9,320.85 506.4,320.83 506.5,320.83 506.9,320.84 507.4,320.89 507.9,320.96 508.4,321.06 508.9,321.17 509.4,321.30 509.9,321.44 510.4,321.58 510.9,321.71 511.4,321.84 511.9,321.96 512.4,322.07 512.9,322.17 513.4,322.25 513.9,322.32 514.4,322.36 514.9,322.39 515.4,322.36 515.9,322.14 516.4,321.21 516.9,318.80 517.4,315.37 517.8,313.90 517.9,313.95 518.4,316.41 518.9,319.78 519.4,321.73 519.9,322.41 520.4,322.59 520.9,322.66 521.4,322.69 521.9,322.72 522.4,322.74 522.9,322.75 523.4,322.76 523.9,322.77 524.4,322.78 524.9,322.78 525.4,322.79 525.9,322.79 526.4,322.79 526.9,322.80 527.4,322.80 527.9,322.80 528.4,322.80 528.9,322.80 529.4,322.81 529.9,322.81 530.4,322.81 530.9,322.81 531.4,322.81 531.9,322.81 532.4,322.81 532.9,322.81 533.4,322.81 533.9,322.81 534.4,322.81 534.9,322.81 535.4,322.81 535.9,322.81 536.4,322.81 536.9,322.81 537.4,322.81 537.9,322.81 538.4,322.81 538.9,322.80 539.4,322.80 539.9,322.80 540.4,322.80 540.9,322.80 541.4,322.80 541.9,322.80 542.4,322.80 542.9,322.80 543.4,322.80 543.9,322.79 544.4,322.79 544.9,322.79 545.4,322.79 545.9,322.79 546.4,322.79 546.9,322.79 547.4,322.79 547.9,322.78 548.4,322.78" fill="none" stroke="#1a1a1a" stroke-width="1.3" stroke-linejoin="round"/>
<polyline points="381.4,388.70 381.9,388.70 382.4,388.69 382.9,388.69 383.4,388.68 383.9,388.68 384.4,388.67 384.9,388.67 385.4,388.66 385.9,388.66 386.4,388.65 386.9,388.65 387.4,388.64 387.9,388.64 388.4,388.63 388.9,388.63 389.4,388.62 389.9,388.62 390.4,388.61 390.9,388.61 391.4,388.60 391.9,388.60 392.4,388.59 392.9,388.59 393.4,388.58 393.9,388.58 394.4,388.57 394.9,388.56 395.4,388.56 395.9,388.55 396.4,388.54 396.9,388.54 397.4,388.53 397.9,388.52 398.4,388.52 398.9,388.51 399.4,388.50 399.9,388.49 400.4,388.49 400.9,388.48 401.4,388.47 401.9,388.46 402.4,388.45 402.9,388.44 403.4,388.43 403.9,388.41 404.4,388.39 404.9,388.38 405.4,388.35 405.9,388.32 406.4,388.28 406.9,388.23 407.4,388.17 407.9,388.08 408.4,387.98 408.9,387.84 409.4,387.67 409.9,387.46 410.4,387.21 410.9,386.92 411.4,386.58 411.9,386.20 412.4,385.78 412.9,385.33 413.4,384.88 413.9,384.43 414.4,384.00 414.9,383.63 415.4,383.32 415.9,383.11 416.4,383.01 416.6,383.00 416.9,383.03 417.4,383.16 417.9,383.40 418.4,383.73 418.9,384.11 419.4,384.54 419.9,384.98 420.4,385.43 420.9,385.85 421.4,386.24 421.9,386.60 422.4,386.91 422.9,387.18 423.4,387.40 423.9,387.59 424.4,387.73 424.9,387.84 425.4,387.93 425.9,388.00 426.4,388.04 426.9,388.08 427.4,388.10 427.9,388.12 428.4,388.13 428.9,388.13 429.4,388.14 429.9,388.14 430.4,388.14 430.9,388.14 431.4,388.14 431.9,388.13 432.4,388.13 432.9,388.12 433.4,388.12 433.9,388.11 434.4,388.11 434.9,388.10 435.4,388.09 435.9,388.08 436.4,388.07 436.9,388.06 437.4,388.05 437.9,388.04 438.4,388.03 438.9,388.01 439.4,387.99 439.9,387.97 440.4,387.95 440.9,387.93 441.4,387.90 441.9,387.86 442.4,387.83 442.9,387.78 443.4,387.73 443.9,387.67 444.4,387.61 444.9,387.53 445.4,387.45 445.9,387.35 446.4,387.24 446.9,387.13 447.4,387.00 447.9,386.86 448.4,386.71 448.9,386.54 449.4,386.37 449.9,386.19 450.4,386.01 450.9,385.82 451.4,385.62 451.9,385.43 452.4,385.25 452.9,385.07 453.4,384.90 453.9,384.75 454.4,384.63 454.9,384.52 455.4,384.44 455.9,384.39 456.0,384.38 456.4,384.37 456.9,384.37 457.4,384.40 457.9,384.44 458.4,384.51 458.9,384.58 459.4,384.65 459.9,384.72 460.4,384.78 460.9,384.81 461.4,384.82 461.9,384.78 462.4,384.65 462.9,384.35 463.4,383.72 463.9,382.53 464.4,380.52 464.9,377.55 465.4,373.78 465.9,369.83 466.4,366.74 466.8,365.63 466.9,365.55 467.4,366.37 467.9,368.12 468.4,369.36 468.9,369.51 469.4,369.25 469.6,369.31 469.9,369.79 470.4,371.07 470.9,371.97 471.4,371.80 471.9,370.59 472.4,368.71 472.9,366.48 473.4,364.06 473.5,363.57 473.9,361.58 474.4,359.12 474.9,356.77 475.4,354.65 475.9,352.86 476.4,351.49 476.9,350.64 477.4,350.37 477.6,350.46 477.9,350.71 478.4,351.66 478.9,353.17 479.4,355.16 479.9,357.54 480.4,360.19 480.9,363.00 481.4,365.86 481.9,368.68 482.4,371.38 482.9,373.89 483.4,376.18 483.9,378.20 484.4,379.95 484.9,381.44 485.4,382.68 485.9,383.68 486.4,384.49 486.9,385.12 487.4,385.61 487.9,385.97 488.4,386.24 488.9,386.44 489.4,386.58 489.9,386.67 490.4,386.73 490.9,386.77 491.4,386.78 491.9,386.78 492.4,386.77 492.9,386.74 493.4,386.70 493.9,386.65 494.4,386.58 494.9,386.49 495.4,386.37 495.9,386.22 496.4,386.01 496.9,385.75 497.4,385.40 497.9,384.95 498.4,384.36 498.9,383.62 499.4,382.68 499.9,381.52 500.4,380.12 500.9,378.47 501.4,376.55 501.9,374.39 502.4,372.02 502.9,369.49 503.4,366.89 503.9,364.32 504.4,361.90 504.9,359.79 505.4,358.15 505.9,357.12 506.4,356.80 506.4,356.81 506.9,357.24 507.4,358.38 507.9,360.11 508.4,362.28 508.9,364.73 509.4,367.32 509.9,369.92 510.4,372.42 510.9,374.76 511.4,376.89 511.9,378.76 512.4,380.38 512.9,381.74 513.4,382.86 513.9,383.76 514.4,384.48 514.9,385.05 515.4,385.49 515.9,385.82 516.4,386.08 516.9,386.28 517.4,386.43 517.9,386.56 518.4,386.65 518.9,386.73 519.4,386.80 519.9,386.86 520.4,386.90 520.9,386.95 521.4,386.99 521.9,387.02 522.4,387.05 522.9,387.08 523.4,387.10 523.9,387.13 524.4,387.15 524.9,387.17 525.4,387.18 525.9,387.20 526.4,387.21 526.9,387.23 527.4,387.24 527.9,387.25 528.4,387.26 528.9,387.27 529.4,387.28 529.9,387.29 530.4,387.30 530.9,387.30 531.4,387.31 531.9,387.31 532.4,387.32 532.9,387.32 533.4,387.33 533.9,387.33 534.4,387.33 534.9,387.34 535.4,387.34 535.9,387.34 536.4,387.34 536.9,387.35 537.4,387.35 537.9,387.35 538.4,387.35 538.9,387.35 539.4,387.35 539.9,387.35 540.4,387.35 540.9,387.35 541.4,387.35 541.9,387.35 542.4,387.35 542.9,387.35 543.4,387.35 543.9,387.35 544.4,387.35 544.9,387.35 545.4,387.35 545.9,387.35 546.4,387.35 546.9,387.34 547.4,387.34 547.9,387.34 548.4,387.34" fill="none" stroke="#1a1a1a" stroke-width="1.3" stroke-linejoin="round"/>
<polyline points="517.9,20.3 517.9,250" fill="none" stroke="#000" stroke-width="1.3" stroke-linejoin="round"/>
<polyline points="24.6,91.83 25.1,91.90 25.6,91.82 26.1,91.57 26.6,91.90 27.1,91.82 27.6,91.67 28.1,91.83 28.6,91.79 29.1,91.78 29.6,91.73 30.1,91.80 30.6,91.60 31.1,91.68 31.6,91.63 32.1,91.78 32.6,91.69 33.1,91.63 33.6,91.55 34.1,91.62 34.6,91.66 35.1,91.60 35.6,91.83 36.1,91.78 36.6,91.21 37.1,91.33 37.6,91.58 38.1,91.53 38.6,91.61 39.1,91.61 39.6,91.88 40.1,91.38 40.6,91.48 41.1,91.83 41.6,91.61 42.1,91.60 42.6,91.41 43.1,91.23 43.6,91.49 44.1,91.46 44.6,91.24 45.1,91.31 45.6,91.38 46.1,91.23 46.6,91.34 47.1,91.34 47.6,91.31 48.1,91.20 48.6,91.34 49.1,91.35 49.6,91.24 50.1,91.03 50.6,91.23 51.1,91.00 51.6,91.16 52.1,90.82 52.6,91.06 53.1,90.87 53.6,90.62 54.1,90.69 54.6,90.67 55.1,90.62 55.6,90.35 56.1,90.23 56.6,90.32 57.1,90.11 57.6,90.09 58.1,90.03 58.6,89.53 59.1,89.66 59.6,89.64 60.1,89.23 60.6,88.96 61.1,88.98 61.6,88.69 62.1,88.54 62.6,88.10 63.1,87.66 63.6,87.58 64.1,87.23 64.6,87.09 65.1,86.65 65.6,86.00 66.1,85.64 66.6,85.47 67.1,84.88 67.6,84.06 68.1,83.47 68.6,82.85 69.1,82.22 69.5,81.86 69.6,81.67 70.1,81.23 70.6,80.91 71.1,80.82 71.6,79.99 72.1,79.86 72.6,79.32 73.1,78.38 73.6,77.76 74.1,76.56 74.6,75.53 75.1,73.90 75.6,72.30 76.1,70.40 76.6,68.05 77.1,65.42 77.6,62.70 78.1,60.46 78.6,57.42 79.1,54.64 79.6,52.22 80.1,49.87 80.6,48.03 80.9,46.77 81.1,46.25 81.4,45.36 81.6,45.01 82.1,43.83 82.6,43.44 83.1,43.20 83.6,42.62 84.1,42.57 84.6,43.34 85.1,44.15 85.6,44.38 86.1,45.38 86.6,46.98 86.7,47.07 87.1,48.47 87.6,50.47 88.1,52.87 88.6,55.27 89.1,58.11 89.6,60.92 90.1,63.75 90.6,66.73 91.1,69.46 91.6,72.28 92.1,74.60 92.6,76.88 93.1,79.30 93.6,80.87 94.1,82.39 94.6,83.73 94.9,84.24 95.1,84.61 95.6,85.45 96.1,85.98 96.6,86.17 97.1,86.79 97.6,86.85 98.1,87.02 98.6,87.28 99.1,87.59 99.6,88.12 100.1,87.94 100.6,88.36 101.1,88.24 101.6,88.77 102.1,89.10 102.6,89.11 103.1,89.23 103.6,89.52 104.1,89.74 104.6,89.87 105.1,90.19 105.6,90.05 106.1,90.03 106.6,90.20 107.1,90.30 107.6,90.41 108.1,90.46 108.6,90.56 109.1,90.34 109.6,90.77 110.1,90.61 110.6,90.56 111.1,90.86 111.6,90.99 112.1,90.88 112.6,90.83 113.1,90.66 113.6,91.20 114.1,90.85 114.6,90.47 115.1,90.42 115.6,90.42 116.1,90.02 116.6,90.10 117.1,89.81 117.6,89.86 118.1,89.62 118.6,88.89 119.1,89.16 119.6,88.83 120.0,89.22 120.1,89.08 120.6,89.20 121.1,89.08 121.6,89.70 122.1,89.94 122.6,89.70 123.1,90.14 123.6,90.20 124.1,90.50 124.6,90.48 125.1,91.10 125.6,90.80 126.1,91.00 126.6,91.19 127.1,91.08 127.6,91.19 128.1,91.17 128.6,91.26 129.1,91.13 129.6,91.26 130.1,91.30 130.6,91.30 131.1,91.36 131.6,91.32 132.1,91.49 132.6,91.33 133.1,91.37 133.6,91.29 134.1,91.32 134.6,91.21 135.1,91.49 135.6,91.24 136.1,91.31 136.6,91.48 137.1,91.49 137.6,91.37 138.1,91.13 138.6,91.50 139.1,91.48 139.6,91.23 140.1,91.56 140.6,91.34 141.1,91.28 141.6,91.47 142.1,91.43 142.6,91.49 143.1,91.22 143.6,91.74 144.1,91.38 144.6,91.24 145.1,91.56 145.6,91.42 146.1,91.52 146.6,91.42 147.1,91.47 147.6,91.51 148.1,91.37 148.6,91.58 149.1,91.41 149.6,91.35 150.1,91.49 150.6,91.55" fill="none" stroke="#ff0000" stroke-width="1.4" stroke-linejoin="round"/>
<polyline points="24.6,161.13 25.1,159.74 25.6,160.63 26.1,160.32 26.6,160.35 27.1,160.41 27.6,159.86 28.1,160.38 28.6,160.18 29.1,161.43 29.6,160.48 30.1,160.30 30.6,160.31 31.1,160.17 31.6,160.04 32.1,160.23 32.6,160.47 33.1,160.24 33.6,160.58 34.1,160.21 34.6,160.25 35.1,160.69 35.6,160.36 36.1,160.02 36.6,160.09 37.1,160.28 37.6,160.67 38.1,159.98 38.6,159.96 39.1,160.30 39.6,159.69 40.1,159.84 40.6,160.15 41.1,160.02 41.6,159.83 42.1,159.96 42.6,158.86 43.1,159.96 43.6,159.32 44.1,159.05 44.6,159.58 45.1,159.65 45.6,159.24 46.1,158.99 46.6,159.25 47.1,159.16 47.6,159.52 48.1,159.25 48.6,159.00 49.1,159.20 49.6,158.72 50.1,158.41 50.6,158.77 51.1,158.68 51.6,158.34 52.1,158.07 52.6,158.27 53.1,157.34 53.6,158.19 54.1,158.01 54.6,157.25 55.1,157.64 55.6,157.21 56.1,157.60 56.6,156.63 57.1,156.83 57.6,157.17 58.1,157.17 58.6,156.03 59.1,156.37 59.6,156.47 60.1,156.03 60.6,156.54 61.1,155.54 61.6,155.84 62.1,155.25 62.6,155.82 63.1,155.23 63.6,154.95 64.1,154.38 64.6,155.24 65.1,154.80 65.6,154.65 66.1,154.63 66.6,154.27 67.1,153.88 67.6,153.75 68.1,153.69 68.6,154.30 69.1,153.42 69.6,153.66 70.1,153.73 70.6,153.86 71.1,153.93 71.5,153.34 71.6,153.19 72.1,153.64 72.6,153.92 73.1,153.67 73.6,153.35 74.1,152.96 74.6,152.77 75.1,152.06 75.6,151.59 75.6,151.05 76.1,150.34 76.6,148.98 77.1,147.68 77.6,145.92 78.1,144.84 78.6,142.69 79.1,140.83 79.6,137.92 80.1,136.62 80.6,134.77 81.1,133.42 81.6,130.98 82.1,130.54 82.6,129.19 83.1,127.35 83.5,126.71 83.6,126.61 84.1,126.22 84.6,126.05 84.8,126.41 85.1,125.74 85.6,126.24 86.1,126.53 86.6,127.70 87.1,128.25 87.6,129.41 88.1,129.73 88.6,131.09 89.1,132.00 89.6,133.79 90.1,134.63 90.6,135.45 91.1,136.54 91.6,138.00 92.0,138.64 92.1,138.83 92.6,140.58 93.1,142.54 93.6,143.12 94.1,144.39 94.6,145.51 95.1,146.67 95.6,148.33 96.1,149.41 96.6,150.02 97.1,150.85 97.6,151.42 98.1,151.96 98.6,151.91 99.1,152.61 99.6,153.12 100.1,153.14 100.6,153.50 101.1,153.63 101.6,154.00 102.1,154.57 102.6,154.39 103.1,154.66 103.6,155.13 104.1,155.26 104.6,155.74 105.1,154.76 105.6,155.80 106.1,155.54 106.6,155.86 107.1,156.19 107.6,156.38 108.1,156.47 108.6,156.29 109.1,156.80 109.6,156.29 110.1,156.37 110.6,156.68 111.1,156.29 111.6,157.09 112.1,156.72 112.6,157.03 113.1,156.31 113.6,156.13 114.1,156.21 114.6,156.29 115.1,155.79 115.6,155.97 116.1,155.75 116.6,156.13 117.1,155.35 117.6,155.78 118.1,155.20 118.6,155.06 119.1,155.12 119.6,154.99 120.1,155.44 120.2,155.72 120.6,155.52 121.1,155.78 121.6,156.23 122.1,156.01 122.6,156.19 123.1,156.28 123.6,156.12 124.1,157.09 124.6,156.59 125.1,157.58 125.6,157.64 126.1,158.23 126.6,158.12 127.1,158.13 127.6,158.71 128.1,158.65 128.6,158.96 129.1,159.21 129.6,159.33 130.1,159.47 130.6,159.41 131.1,159.73 131.6,159.26 132.1,159.96 132.6,159.73 133.1,160.51 133.6,160.63 134.1,159.72 134.6,160.41 135.1,160.38 135.6,160.15 136.1,160.66 136.6,160.40 137.1,160.04 137.6,160.52 138.1,160.58 138.6,160.68 139.1,160.30 139.6,160.88 140.1,160.93 140.6,160.39 141.1,160.55 141.6,160.74 142.1,160.61 142.6,161.32 143.1,160.87 143.6,160.52 144.1,160.60 144.6,160.83 145.1,161.55 145.6,160.82 146.1,160.92 146.6,161.05 147.1,160.90 147.6,161.60 148.1,160.77 148.6,161.16 149.1,160.99 149.6,161.14 150.1,160.61 150.6,161.50" fill="none" stroke="#ff0000" stroke-width="1.4" stroke-linejoin="round"/>
<polyline points="24.6,241.18 25.1,241.09 25.6,241.24 26.1,241.32 26.6,241.42 27.1,241.25 27.6,241.14 28.1,241.09 28.6,241.31 29.1,241.43 29.6,241.21 30.1,240.97 30.6,241.00 31.1,241.37 31.6,241.15 32.1,240.84 32.6,241.08 33.1,240.90 33.6,240.97 34.1,240.97 34.6,240.92 35.1,241.10 35.6,240.99 36.1,240.90 36.6,241.03 37.1,241.08 37.6,240.70 38.1,240.89 38.6,240.77 39.1,240.87 39.6,240.69 40.1,240.87 40.6,240.84 41.1,240.79 41.6,240.66 42.1,240.74 42.6,240.62 43.1,240.56 43.6,240.78 44.1,240.57 44.6,240.89 45.1,240.80 45.6,240.38 46.1,240.70 46.6,240.48 47.1,240.63 47.6,240.61 48.1,240.29 48.6,240.53 49.1,240.51 49.6,240.67 50.1,240.33 50.6,240.59 51.1,240.29 51.6,240.39 52.1,240.29 52.6,240.61 53.1,240.45 53.6,240.71 54.1,240.41 54.6,240.42 55.1,240.39 55.6,240.15 56.1,240.20 56.6,240.39 57.1,240.09 57.6,240.15 58.1,240.09 58.6,240.15 59.1,239.97 59.6,239.97 60.1,240.00 60.6,239.94 61.1,239.76 61.6,239.98 62.1,239.61 62.6,239.58 63.1,239.53 63.6,239.82 64.1,239.57 64.6,239.43 65.1,239.35 65.6,239.53 66.1,239.25 66.6,239.16 67.1,239.38 67.6,239.04 68.1,239.09 68.6,239.06 69.1,238.91 69.6,238.87 70.1,238.98 70.6,238.59 71.1,238.35 71.6,238.12 72.1,238.21 72.6,238.01 73.1,237.89 73.6,237.55 74.1,237.27 74.6,236.92 75.1,236.59 75.6,236.28 76.1,235.71 76.6,235.24 77.1,234.88 77.6,233.95 78.1,232.84 78.6,232.43 79.1,231.21 79.6,229.89 80.1,228.94 80.6,227.47 81.1,225.93 81.6,224.38 82.1,222.70 82.6,221.15 83.1,219.55 83.6,217.55 84.1,215.87 84.6,214.34 85.1,212.19 85.6,210.85 86.1,209.36 86.6,208.07 87.1,207.15 87.6,206.67 88.1,206.44 88.2,206.28 88.6,206.42 89.1,206.88 89.6,207.48 90.1,208.50 90.6,209.59 91.1,210.93 91.6,212.59 92.1,213.95 92.6,215.45 93.1,217.13 93.6,218.44 94.1,220.04 94.6,221.65 95.1,222.97 95.6,224.37 96.1,225.29 96.6,226.11 97.1,227.55 97.6,228.24 98.1,228.63 98.6,229.60 99.1,229.91 99.6,230.06 100.1,230.61 100.6,230.85 101.1,231.36 101.6,231.13 102.1,231.28 102.6,231.29 103.1,231.23 103.6,231.06 104.1,231.09 104.6,231.02 105.1,230.70 105.6,230.16 106.1,229.74 106.5,229.57 106.6,229.34 107.1,228.80 107.6,227.99 108.1,227.77 108.6,226.71 109.1,225.40 109.6,224.49 110.1,223.20 110.6,221.12 111.1,219.71 111.6,217.86 112.1,215.99 112.6,213.69 113.1,211.36 113.6,208.99 114.1,206.85 114.6,204.50 115.1,201.83 115.6,199.73 116.1,198.58 116.6,196.80 117.1,196.20 117.4,196.19 117.6,196.31 118.1,196.96 118.6,198.01 119.1,199.44 119.6,201.64 120.1,203.84 120.6,206.44 121.1,208.55 121.6,210.68 122.1,212.95 122.6,215.40 123.1,216.99 123.6,218.45 124.1,220.17 124.6,221.55 125.1,222.84 125.6,223.46 126.1,224.53 126.6,225.25 127.1,225.65 127.6,226.30 128.1,227.16 128.5,227.61 128.6,227.59 129.1,228.11 129.6,228.86 130.1,229.31 130.6,229.99 131.1,230.55 131.6,231.36 132.1,232.00 132.6,233.06 133.1,233.22 133.6,234.00 134.1,234.52 134.6,234.76 135.1,235.39 135.6,235.26 136.1,235.94 136.6,236.34 137.1,236.10 137.6,236.51 138.1,237.03 138.6,236.99 139.1,237.00 139.6,237.23 140.1,237.31 140.6,237.59 141.1,237.63 141.6,237.60 142.1,237.60 142.6,237.75 143.1,238.01 143.6,237.91 144.1,238.00 144.6,237.92 145.1,237.79 145.6,237.91 146.1,238.15 146.6,238.10 147.1,237.98 147.6,237.89 148.1,238.18 148.6,238.13 149.1,238.15 149.6,238.17 150.1,238.29 150.6,238.30" fill="none" stroke="#ff0000" stroke-width="1.4" stroke-linejoin="round"/>
<polyline points="24.6,291.62 25.1,291.68 25.6,291.46 26.1,291.23 26.6,291.33 27.1,291.13 27.6,291.42 28.1,291.79 28.6,291.17 29.1,291.09 29.6,291.40 30.1,291.32 30.6,291.19 31.1,290.82 31.6,291.06 32.1,291.25 32.6,290.55 33.1,290.79 33.6,290.28 34.1,290.42 34.6,290.20 35.1,290.66 35.6,290.28 36.1,290.72 36.6,290.63 37.1,290.47 37.6,289.67 38.1,290.25 38.6,290.35 39.1,290.34 39.6,289.76 40.1,290.04 40.6,289.82 41.1,289.81 41.6,290.35 42.1,289.69 42.6,289.88 43.1,290.11 43.6,289.58 44.1,289.67 44.6,289.67 45.1,289.59 45.6,289.12 46.1,289.47 46.6,289.81 47.1,288.81 47.6,289.52 48.1,289.21 48.6,288.90 49.1,289.68 49.6,289.21 50.1,288.52 50.6,288.86 51.1,288.95 51.6,288.63 52.1,288.84 52.6,288.53 53.1,288.70 53.6,288.88 54.1,288.13 54.6,288.34 55.1,288.06 55.6,288.18 56.1,287.69 56.6,287.81 57.1,287.87 57.6,288.15 58.1,288.16 58.6,287.30 59.1,287.40 59.6,287.80 60.1,286.88 60.6,287.31 61.1,287.36 61.6,287.73 62.1,287.48 62.6,287.09 63.1,287.01 63.6,286.98 64.1,287.49 64.6,286.80 65.1,286.78 65.6,286.92 66.1,286.71 66.6,286.62 67.1,286.26 67.6,286.54 68.1,286.33 68.6,286.78 69.1,286.54 69.6,286.24 70.1,286.38 70.6,285.96 71.1,286.31 71.6,285.86 72.1,285.92 72.6,285.19 73.1,285.57 73.6,284.75 74.1,284.45 74.6,284.80 75.1,284.37 75.6,284.45 76.1,284.82 76.5,283.58 76.6,283.58 77.1,283.48 77.6,283.17 78.1,282.50 78.6,282.00 79.1,281.75 79.6,281.10 80.1,279.96 80.6,279.58 81.1,278.87 81.6,277.72 82.1,277.30 82.6,276.05 83.1,275.70 83.6,274.47 84.1,273.43 84.6,272.18 85.1,271.27 85.6,269.61 86.1,268.82 86.6,268.24 87.1,266.40 87.6,266.35 88.1,264.55 88.6,264.45 89.1,263.10 89.6,262.87 90.1,262.01 90.6,260.92 91.1,261.38 91.6,261.14 92.1,260.48 92.6,260.38 92.7,260.42 93.1,260.25 93.6,261.15 94.1,261.00 94.6,261.66 95.1,262.03 95.6,262.81 96.1,263.43 96.6,265.15 97.1,265.68 97.6,267.07 98.1,267.85 98.6,268.75 99.1,270.01 99.6,271.08 100.1,272.41 100.6,273.43 101.1,274.58 101.6,275.32 102.1,276.57 102.6,278.37 103.1,278.60 103.6,279.41 104.1,280.73 104.6,281.89 105.1,281.75 105.6,282.86 106.1,283.38 106.6,283.63 107.1,284.99 107.6,285.26 108.1,285.75 108.6,285.91 109.1,286.67 109.6,286.70 110.1,287.13 110.6,287.10 111.1,287.31 111.6,288.35 112.1,287.96 112.6,288.39 113.1,288.44 113.6,288.46 114.1,288.57 114.6,289.05 115.1,288.85 115.6,289.00 116.1,289.14 116.6,289.59 117.1,289.51 117.6,289.48 118.1,289.25 118.6,289.04 119.1,289.85 119.6,289.91 120.1,289.60 120.6,289.87 121.1,290.00 121.6,290.06 122.1,290.13 122.6,289.73 123.1,290.40 123.6,289.55 124.1,290.27 124.6,290.18 125.1,290.34 125.6,290.70 126.1,290.60 126.6,289.79 127.1,289.65 127.6,290.48 128.1,289.92 128.6,290.27 129.1,290.57 129.6,289.80 130.1,289.67 130.6,290.45 131.1,290.41 131.6,290.34 132.1,290.45 132.6,290.18 133.1,289.99 133.6,290.44 134.1,290.20 134.6,290.00 135.1,290.71 135.6,290.54 136.1,290.71 136.6,290.28 137.1,290.40 137.6,290.30 138.1,290.35 138.6,290.71 139.1,290.40 139.6,290.78 140.1,290.79 140.6,291.33 141.1,290.25 141.6,290.99 142.1,290.68 142.6,290.72 143.1,290.26 143.6,290.59 144.1,290.98 144.6,290.72 145.1,290.78 145.6,290.67 146.1,291.13 146.6,290.76 147.1,290.07 147.6,290.55 148.1,290.15 148.6,289.74 149.1,290.62 149.6,291.21 150.1,290.80 150.6,290.42" fill="none" stroke="#ff0000" stroke-width="1.4" stroke-linejoin="round"/>
<polyline points="24.6,359.73 25.1,359.83 25.6,359.63 26.1,359.85 26.6,359.89 27.1,359.72 27.6,359.79 28.1,359.76 28.6,359.69 29.1,359.63 29.6,359.50 30.1,359.83 30.6,359.67 31.1,359.91 31.6,359.72 32.1,359.65 32.6,359.54 33.1,359.73 33.6,359.52 34.1,359.71 34.6,359.49 35.1,359.53 35.6,359.33 36.1,359.70 36.6,359.43 37.1,359.38 37.6,359.48 38.1,359.28 38.6,359.42 39.1,359.20 39.6,359.35 40.1,359.16 40.6,359.05 41.1,359.15 41.6,359.03 42.1,359.21 42.6,359.12 43.1,359.14 43.6,359.07 44.1,359.00 44.6,359.00 45.1,359.07 45.6,358.92 46.1,358.83 46.6,358.78 47.1,358.82 47.6,358.73 48.1,358.96 48.6,358.62 49.1,358.59 49.6,358.63 50.1,358.69 50.6,358.55 51.1,358.43 51.6,358.39 52.1,358.37 52.6,358.43 53.1,358.15 53.6,358.13 54.1,357.97 54.6,357.93 55.1,357.78 55.6,357.43 56.1,357.63 56.6,357.22 57.1,356.95 57.6,356.71 58.1,356.58 58.5,356.47 58.6,356.49 59.1,356.28 59.6,356.20 60.1,355.91 60.5,355.95 60.6,355.92 61.1,356.04 61.6,356.11 62.1,355.99 62.6,356.21 63.1,356.40 63.6,356.53 64.1,356.43 64.6,356.68 65.1,356.71 65.6,356.66 66.1,356.89 66.6,356.54 67.1,356.53 67.6,356.47 68.1,356.27 68.6,356.00 69.1,355.88 69.6,355.56 70.1,355.13 70.6,354.71 71.1,354.13 71.6,353.48 72.1,353.23 72.6,352.28 73.1,351.90 73.6,350.92 74.1,350.15 74.6,349.25 75.1,348.45 75.6,347.34 76.1,346.56 76.6,345.38 77.1,344.24 77.6,343.04 78.1,341.97 78.6,340.76 79.1,339.76 79.6,338.47 80.1,337.03 80.6,336.17 81.1,334.62 81.6,333.90 82.1,332.49 82.6,331.67 83.1,330.81 83.6,329.87 84.1,328.99 84.6,328.55 85.1,327.69 85.6,327.28 86.1,327.24 86.6,326.82 87.1,326.87 87.1,326.92 87.6,326.90 88.1,327.14 88.6,327.45 89.1,327.92 89.6,328.59 90.1,329.24 90.6,329.96 91.1,330.90 91.6,331.71 92.1,332.72 92.6,333.78 93.1,335.10 93.6,336.36 94.1,337.40 94.6,338.42 95.1,339.79 95.6,341.11 96.1,342.30 96.6,343.47 97.1,344.73 97.6,345.85 98.1,346.72 98.6,347.95 99.1,348.83 99.6,349.88 100.1,350.89 100.6,351.79 101.1,352.47 101.6,353.09 102.1,353.78 102.6,354.50 103.1,354.92 103.6,355.54 104.1,356.08 104.6,356.54 105.1,356.80 105.6,357.20 106.1,357.60 106.6,357.75 107.1,357.76 107.6,358.14 108.1,358.29 108.6,358.33 109.1,358.46 109.6,358.35 110.1,358.63 110.6,358.53 111.1,358.37 111.6,358.36 112.1,358.23 112.6,357.98 113.1,357.61 113.6,357.38 114.1,357.62 114.6,357.03 115.1,356.82 115.6,356.59 116.1,356.16 116.6,355.98 117.1,355.42 117.6,355.23 118.1,354.64 118.6,354.61 119.1,354.33 119.6,354.05 120.1,353.85 120.6,353.70 121.1,353.67 121.6,353.65 121.6,353.46 122.1,353.70 122.6,353.60 123.1,353.87 123.6,354.05 124.1,354.38 124.6,354.60 125.1,355.00 125.6,355.26 126.1,355.57 126.6,356.15 127.1,356.46 127.6,356.82 128.1,357.21 128.6,357.35 129.1,357.86 129.6,357.95 130.1,358.37 130.6,358.56 131.1,358.82 131.6,359.06 132.1,359.17 132.6,359.23 133.1,359.55 133.6,359.69 134.1,359.74 134.6,359.86 135.1,359.65 135.6,359.89 136.1,359.92 136.6,359.78 137.1,360.02 137.6,360.04 138.1,359.92 138.6,360.01 139.1,360.12 139.6,360.18 140.1,360.21 140.6,360.04 141.1,360.06 141.6,360.12 142.1,360.18 142.6,360.13 143.1,360.18 143.6,360.28 144.1,360.28 144.6,360.24 145.1,360.11 145.6,360.19 146.1,360.30 146.6,360.33 147.1,360.36 147.6,360.15 148.1,360.22 148.6,360.15 149.1,359.98 149.6,360.17 150.1,360.11 150.6,360.43" fill="none" stroke="#ff0000" stroke-width="1.4" stroke-linejoin="round"/>
<polyline points="204.6,71.78 205.1,71.90 205.6,71.87 206.1,71.67 206.6,71.67 207.1,71.62 207.6,71.71 208.1,71.62 208.6,71.67 209.1,71.38 209.6,71.68 210.1,71.48 210.6,71.52 211.1,71.39 211.6,71.32 212.1,71.35 212.6,71.33 213.1,71.17 213.6,71.11 214.1,71.12 214.6,70.89 215.1,70.74 215.6,70.85 216.1,70.65 216.6,70.43 217.1,70.44 217.6,70.36 218.1,70.18 218.6,70.03 219.1,70.07 219.6,70.03 220.1,69.79 220.6,69.61 221.1,69.59 221.6,69.49 222.1,69.26 222.6,69.21 223.1,69.13 223.6,68.88 224.1,68.70 224.6,68.71 225.1,68.59 225.6,68.58 226.1,68.25 226.6,68.24 227.1,68.16 227.6,68.02 228.1,68.17 228.5,68.19 228.6,68.06 229.1,68.27 229.6,68.22 230.1,68.23 230.6,68.24 231.1,68.35 231.6,68.18 232.1,68.44 232.6,68.51 233.1,68.36 233.6,68.66 234.1,68.69 234.6,68.89 235.1,68.87 235.6,69.01 236.1,69.14 236.6,69.11 237.1,69.35 237.6,69.37 238.1,69.51 238.6,69.49 239.1,69.72 239.6,69.74 240.1,69.72 240.6,69.85 241.1,69.96 241.6,70.04 242.1,69.71 242.6,69.89 243.1,69.66 243.6,69.19 244.1,68.45 244.6,67.90 245.1,67.07 245.3,67.16 245.6,67.31 246.1,67.56 246.6,68.44 247.1,68.96 247.6,69.49 248.1,69.77 248.6,69.84 249.1,69.40 249.6,69.42 250.1,69.43 250.6,69.37 251.1,69.08 251.6,68.76 252.1,68.63 252.6,68.33 253.1,68.00 253.6,67.59 254.1,67.30 254.6,66.84 255.1,66.28 255.6,65.70 256.1,64.96 256.6,64.33 257.1,63.73 257.6,62.75 258.1,61.71 258.6,61.00 259.1,59.86 259.6,58.89 260.1,57.50 260.6,56.20 261.1,54.81 261.6,53.75 262.1,52.52 262.6,50.80 263.1,49.45 263.6,48.22 264.1,46.76 264.6,45.55 265.1,44.36 265.6,43.34 266.1,42.48 266.6,41.57 267.1,41.03 267.6,40.45 268.1,40.28 268.4,39.98 268.6,40.06 269.1,40.45 269.6,40.68 270.1,41.36 270.6,42.08 271.1,43.04 271.6,44.01 272.1,45.15 272.6,46.24 273.1,47.45 273.6,48.76 274.1,50.11 274.6,51.38 275.1,52.76 275.6,54.10 276.1,55.40 276.6,56.55 277.1,57.54 277.6,58.81 278.1,59.85 278.6,60.88 279.1,61.69 279.6,62.36 280.1,63.05 280.6,63.95 281.1,64.36 281.6,64.93 282.1,65.33 282.6,65.32 283.1,65.65 283.6,65.77 284.1,65.80 284.6,65.72 285.1,65.51 285.6,65.22 286.1,64.66 286.6,64.28 287.1,63.58 287.6,62.91 288.1,61.96 288.6,61.06 289.1,59.94 289.6,58.64 290.1,57.29 290.6,55.83 291.1,54.27 291.6,52.76 292.1,51.18 292.6,49.75 293.1,48.26 293.6,46.97 294.1,45.60 294.6,44.85 295.1,43.94 295.6,43.47 295.8,43.41 296.1,43.29 296.6,43.45 297.1,43.68 297.6,44.16 298.1,44.87 298.6,45.90 299.1,46.66 299.6,47.45 300.1,48.48 300.6,49.21 301.1,50.38 301.6,50.85 302.1,51.81 302.6,52.54 303.1,53.06 303.6,53.96 304.1,54.78 304.5,55.37 304.6,55.51 305.1,56.44 305.6,57.27 306.1,58.24 306.6,59.18 307.1,60.24 307.6,61.05 308.1,62.17 308.6,62.94 309.1,63.73 309.6,64.66 310.1,65.51 310.6,66.08 311.1,66.50 311.6,67.13 312.1,67.45 312.6,67.86 313.1,68.20 313.6,68.22 314.1,68.69 314.6,68.76 315.1,68.94 315.6,68.99 316.1,69.09 316.6,69.23 317.1,69.48 317.6,69.63 318.1,69.51 318.6,69.66 319.1,69.57 319.6,69.44 320.1,69.67 320.6,69.73 321.1,69.67 321.6,69.76 322.1,69.81 322.6,69.68 323.1,69.64 323.6,69.78 324.1,69.79 324.6,69.79 325.1,69.94 325.6,70.02 326.1,69.82 326.6,69.94 327.1,69.97 327.6,69.96 328.1,70.00 328.6,69.86 329.1,69.98 329.6,70.11 330.1,70.00 330.6,69.86" fill="none" stroke="#ff0000" stroke-width="1.4" stroke-linejoin="round"/>
<polyline points="204.6,150.01 205.1,149.50 205.6,149.88 206.1,149.77 206.6,149.87 207.1,149.76 207.6,149.87 208.1,149.67 208.6,149.58 209.1,149.66 209.6,149.60 210.1,149.49 210.6,149.45 211.1,149.51 211.6,149.45 212.1,149.28 212.6,149.24 213.1,149.03 213.6,149.31 214.1,149.05 214.6,149.13 215.1,148.96 215.6,149.02 216.1,148.89 216.6,148.67 217.1,148.69 217.6,148.34 218.1,148.45 218.6,148.05 219.1,148.11 219.6,148.06 220.1,147.85 220.6,147.65 221.1,147.47 221.6,147.38 222.1,147.38 222.6,147.22 223.1,146.96 223.6,146.71 224.1,146.76 224.6,146.41 225.1,146.37 225.6,146.21 226.1,146.23 226.6,146.06 227.1,145.97 227.6,145.84 228.1,145.65 228.6,145.68 229.1,145.70 229.6,145.49 230.1,145.50 230.2,145.41 230.6,145.50 231.1,145.43 231.6,145.43 232.1,145.36 232.6,145.49 233.1,145.29 233.6,145.30 234.1,145.27 234.6,145.39 235.1,145.25 235.6,145.22 236.1,145.29 236.6,145.24 237.1,145.04 237.6,144.51 238.1,144.41 238.6,144.04 239.1,143.57 239.6,143.09 240.1,142.65 240.6,141.67 241.1,140.76 241.6,139.96 242.1,138.91 242.6,137.92 243.1,136.87 243.6,136.06 244.1,135.39 244.6,134.64 245.1,134.42 245.2,134.67 245.6,134.69 246.1,134.85 246.6,135.32 247.1,136.10 247.6,136.81 248.1,137.74 248.6,138.77 249.1,139.40 249.6,140.18 250.1,140.60 250.6,141.07 251.1,141.43 251.6,141.24 252.1,141.26 252.6,141.04 253.1,140.67 253.6,140.23 254.1,139.43 254.6,138.34 255.1,137.46 255.6,136.26 256.1,135.00 256.6,133.92 257.1,132.13 257.6,130.69 258.1,128.96 258.6,127.42 259.1,125.65 259.6,123.91 260.1,122.20 260.6,120.71 261.1,118.99 261.6,117.63 262.1,116.40 262.6,115.67 263.1,114.76 263.6,114.18 263.7,114.15 264.1,114.28 264.6,113.98 265.1,114.22 265.6,114.46 266.1,114.78 266.6,115.13 267.1,115.59 267.6,116.02 268.1,116.27 268.6,117.24 269.1,117.66 269.6,118.35 270.1,119.35 270.3,119.71 270.6,120.78 271.1,122.25 271.6,124.05 272.1,125.61 272.6,127.38 273.1,128.80 273.6,129.32 274.1,129.54 274.6,128.89 275.1,127.90 275.6,126.64 276.1,125.69 276.5,125.62 276.6,125.87 277.1,127.18 277.6,129.22 278.1,131.64 278.6,133.70 279.1,135.17 279.6,136.35 280.1,137.32 280.6,137.46 281.1,137.54 281.6,137.80 282.1,137.43 282.6,137.10 283.1,136.95 283.6,136.71 284.1,136.53 284.6,136.13 285.1,135.23 285.5,134.98 285.6,134.59 286.1,133.85 286.6,132.80 287.1,131.53 287.6,130.03 288.1,128.38 288.6,126.40 289.1,124.54 289.6,122.48 290.1,120.29 290.6,118.29 291.1,116.09 291.6,114.23 292.1,112.87 292.6,111.76 293.1,111.21 293.2,111.10 293.6,111.66 294.1,112.34 294.6,113.56 295.1,114.92 295.6,116.55 296.1,118.20 296.6,119.30 297.1,120.08 297.6,120.69 298.1,121.06 298.6,120.75 299.1,120.48 299.6,120.58 300.1,121.22 300.3,121.86 300.6,122.57 301.1,124.34 301.6,126.63 302.1,129.30 302.6,131.84 303.1,134.15 303.6,136.25 304.1,137.92 304.6,139.55 305.1,140.20 305.6,141.27 306.1,141.78 306.6,142.43 307.1,142.72 307.6,143.10 308.1,143.39 308.6,143.61 309.1,143.91 309.6,143.88 310.1,144.32 310.6,144.39 311.1,144.63 311.6,144.93 312.1,145.05 312.6,145.30 313.1,145.03 313.6,145.31 314.1,145.65 314.6,145.58 315.1,145.82 315.6,146.14 316.1,146.18 316.6,146.12 317.1,146.39 317.6,146.52 318.1,146.58 318.6,146.67 319.1,146.80 319.6,146.74 320.1,147.01 320.6,146.99 321.1,147.22 321.6,147.32 322.1,147.28 322.6,147.51 323.1,147.57 323.6,147.61 324.1,147.76 324.6,147.73 325.1,147.81 325.6,147.91 326.1,147.97 326.6,148.15 327.1,147.86 327.6,148.13 328.1,148.02 328.6,148.22 329.1,148.35 329.6,148.38 330.1,148.52 330.6,148.51" fill="none" stroke="#ff0000" stroke-width="1.4" stroke-linejoin="round"/>
<polyline points="204.6,199.66 205.1,199.70 205.6,199.87 206.1,199.70 206.6,199.83 207.1,199.83 207.6,199.45 208.1,199.77 208.6,199.47 209.1,199.81 209.6,199.54 210.1,199.28 210.6,199.31 211.1,199.23 211.6,199.16 212.1,199.22 212.6,198.99 213.1,199.05 213.6,198.79 214.1,198.55 214.6,198.24 215.1,198.11 215.6,198.26 216.1,198.22 216.6,198.21 217.1,197.80 217.6,197.80 218.1,197.57 218.6,197.54 219.1,197.19 219.6,197.59 220.1,197.32 220.6,197.40 220.9,197.47 221.1,197.45 221.6,197.21 222.1,197.66 222.6,197.59 223.1,197.60 223.6,197.50 224.1,197.43 224.6,197.52 225.1,197.82 225.6,197.98 226.1,197.95 226.6,198.43 227.1,198.30 227.6,198.51 228.1,198.59 228.6,198.39 229.1,198.79 229.6,198.79 230.1,198.61 230.6,198.97 231.1,199.09 231.6,199.13 232.1,199.19 232.6,198.86 233.1,199.07 233.6,199.05 234.1,199.15 234.6,199.17 235.1,199.33 235.6,199.27 236.1,199.02 236.6,199.27 237.1,199.35 237.6,199.13 238.1,198.82 238.6,198.92 239.1,198.95 239.6,198.68 240.1,198.86 240.6,198.64 241.1,198.90 241.6,198.83 242.1,198.66 242.6,198.43 243.1,198.60 243.6,198.41 244.1,198.35 244.6,198.56 245.1,198.23 245.6,198.09 246.1,198.36 246.5,198.47 246.6,198.43 247.1,198.26 247.6,198.40 248.1,197.97 248.6,198.28 249.1,198.19 249.6,197.73 250.1,197.73 250.6,197.35 251.1,197.24 251.6,197.30 252.1,196.83 252.6,196.80 253.1,196.56 253.6,196.20 254.1,195.98 254.6,195.75 255.1,195.07 255.6,194.74 256.1,194.34 256.6,193.54 257.1,192.97 257.6,192.16 258.1,192.01 258.6,191.51 259.1,190.79 259.6,190.37 260.1,189.55 260.6,188.63 261.1,187.56 261.5,186.58 261.6,186.49 262.1,185.26 262.6,183.66 263.1,181.87 263.6,179.85 264.1,177.81 264.6,175.09 265.1,172.90 265.6,170.62 266.1,168.59 266.6,166.82 267.1,165.38 267.3,164.93 267.6,164.47 268.1,164.56 268.6,164.62 269.1,164.98 269.6,165.42 270.1,166.03 270.6,167.13 271.1,167.86 271.6,169.10 271.9,170.15 272.1,170.29 272.6,172.24 273.1,174.50 273.6,176.75 274.1,178.69 274.6,180.92 275.1,182.75 275.5,184.12 275.6,184.58 276.1,186.01 276.6,187.39 277.1,188.36 277.6,189.38 278.1,189.81 278.6,190.68 279.1,191.02 279.6,191.56 280.1,192.15 280.6,192.99 281.1,193.42 281.6,193.62 282.1,194.53 282.6,194.93 283.1,195.17 283.6,195.56 284.1,195.97 284.6,196.13 285.1,196.98 285.6,196.84 286.1,197.15 286.6,197.36 287.1,197.52 287.6,197.67 288.1,198.02 288.6,197.92 289.1,198.07 289.6,198.21 290.1,198.54 290.6,198.34 291.1,198.40 291.6,198.64 292.1,198.45 292.6,198.57 293.1,198.69 293.6,198.46 294.1,198.04 294.6,197.60 295.1,196.23 295.6,194.72 296.1,192.88 296.6,191.70 297.1,191.10 297.2,190.89 297.6,191.67 298.1,192.83 298.6,194.48 299.1,195.74 299.6,197.18 300.1,197.97 300.6,198.03 301.1,198.50 301.6,198.47 302.1,198.14 302.6,198.28 303.1,198.25 303.6,197.72 304.1,197.09 304.6,196.79 305.1,196.64 305.6,196.08 306.1,196.15 306.2,196.10 306.6,196.20 307.1,196.66 307.6,196.53 308.1,197.34 308.6,197.62 309.1,197.94 309.6,198.03 310.1,198.58 310.6,198.67 311.1,198.43 311.6,198.77 312.1,198.86 312.6,198.93 313.1,199.02 313.6,199.01 314.1,199.38 314.6,199.32 315.1,199.16 315.6,199.39 316.1,199.51 316.6,199.27 317.1,199.00 317.6,199.26 318.1,199.42 318.6,199.06 319.1,199.21 319.6,199.35 320.1,199.39 320.6,199.34 321.1,199.27 321.6,199.20 322.1,199.13 322.6,199.37 323.1,199.36 323.6,199.15 324.1,199.11 324.6,199.41 325.1,199.37 325.6,199.10 326.1,198.97 326.6,199.23 327.1,199.34 327.6,199.36 328.1,199.34 328.6,198.98 329.1,199.22 329.6,199.15 330.1,199.10 330.6,199.60" fill="none" stroke="#ff0000" stroke-width="1.4" stroke-linejoin="round"/>
<polyline points="204.6,265.90 205.1,265.79 205.6,265.67 206.1,265.57 206.6,265.47 207.1,265.68 207.6,265.56 208.1,265.53 208.6,265.57 209.1,265.56 209.6,265.26 210.1,265.60 210.6,265.20 211.1,265.62 211.6,265.41 212.1,265.22 212.6,265.37 213.1,265.14 213.6,265.14 214.1,264.99 214.6,265.01 215.1,264.91 215.6,264.57 216.1,264.49 216.6,264.49 217.1,264.31 217.6,263.93 218.1,264.32 218.6,263.69 219.1,263.57 219.6,263.53 220.1,263.62 220.6,263.64 221.1,263.28 221.6,263.14 222.1,263.10 222.6,262.94 223.1,262.91 223.6,262.70 224.1,262.84 224.6,262.79 225.1,262.44 225.2,262.71 225.6,262.75 226.1,262.82 226.6,262.69 227.1,262.68 227.6,262.79 228.1,263.05 228.6,262.98 229.1,263.09 229.6,263.43 230.1,263.31 230.6,263.41 231.1,263.63 231.6,263.79 232.1,264.01 232.6,263.90 233.1,263.93 233.6,264.22 234.1,264.41 234.6,264.26 235.1,264.48 235.6,264.66 236.1,264.73 236.6,264.79 237.1,264.82 237.6,264.82 238.1,264.86 238.6,265.16 239.1,264.94 239.6,265.26 240.1,264.99 240.6,265.52 241.1,264.99 241.6,265.41 242.1,265.13 242.6,265.23 243.1,265.25 243.6,265.18 244.1,265.53 244.6,265.27 245.1,265.10 245.6,265.33 246.1,265.33 246.6,265.09 247.1,265.28 247.6,265.21 248.1,265.27 248.6,265.23 249.1,265.11 249.6,265.03 250.1,265.14 250.6,265.01 251.1,264.73 251.6,264.76 252.1,264.68 252.6,264.59 253.1,264.77 253.6,264.30 254.1,264.22 254.6,264.15 255.1,263.77 255.6,263.48 256.1,263.26 256.6,262.76 257.1,262.33 257.6,261.92 258.1,261.34 258.6,260.61 259.1,259.88 259.6,259.26 260.1,258.62 260.6,257.54 261.1,256.73 261.6,255.59 262.1,254.37 262.6,252.86 263.1,251.84 263.6,250.20 264.1,248.05 264.6,245.68 265.1,242.19 265.6,238.14 266.1,233.90 266.6,231.02 266.8,230.46 267.1,230.35 267.6,231.39 268.1,233.03 268.6,234.76 269.1,235.55 269.6,235.44 270.1,234.23 270.6,232.48 271.1,230.21 271.4,230.07 271.4,229.82 271.6,230.14 272.1,232.05 272.6,234.16 273.1,235.62 273.6,235.20 274.1,234.49 274.6,233.39 274.7,233.21 275.1,233.90 275.6,234.29 276.1,233.27 276.6,230.92 277.1,229.76 277.4,229.88 277.6,230.86 278.1,234.70 278.6,239.60 279.1,244.26 279.6,247.54 280.1,249.63 280.6,251.60 281.1,252.61 281.6,253.51 282.1,254.00 282.6,254.85 283.1,255.21 283.6,255.73 284.1,255.90 284.6,256.06 285.1,255.94 285.6,255.68 286.1,255.85 286.6,255.53 287.1,255.12 287.6,254.71 288.1,254.24 288.6,253.67 289.1,253.24 289.6,252.86 290.1,252.55 290.6,251.90 291.1,251.54 291.6,250.73 292.1,250.50 292.6,249.73 292.8,249.72 293.1,249.19 293.6,247.91 294.1,246.02 294.6,243.04 295.1,238.08 295.6,231.56 296.1,224.63 296.6,218.53 297.1,215.83 297.1,216.11 297.6,219.46 298.1,226.82 298.6,234.69 299.1,241.76 299.6,246.71 300.1,250.20 300.6,252.29 301.1,253.90 301.6,254.67 302.1,255.35 302.6,255.92 303.1,256.21 303.6,256.79 304.1,256.98 304.5,257.45 304.6,257.52 305.1,257.87 305.6,258.26 306.1,258.58 306.6,259.10 307.1,259.41 307.6,259.74 308.1,260.14 308.6,260.46 309.1,260.89 309.6,261.22 310.1,261.38 310.6,262.11 311.1,262.17 311.6,262.43 312.1,262.81 312.6,262.77 313.1,263.20 313.6,263.49 314.1,263.61 314.6,263.82 315.1,263.91 315.6,264.06 316.1,264.21 316.6,264.34 317.1,264.28 317.6,264.53 318.1,264.60 318.6,264.55 319.1,264.61 319.6,264.74 320.1,264.90 320.6,264.93 321.1,264.73 321.6,264.79 322.1,264.81 322.6,264.95 323.1,264.90 323.6,264.98 324.1,265.10 324.6,264.99 325.1,265.03 325.6,265.03 326.1,264.91 326.6,264.99 327.1,264.99 327.6,264.97 328.1,265.22 328.6,265.11 329.1,264.73 329.6,264.96 330.1,265.05 330.6,265.07" fill="none" stroke="#ff0000" stroke-width="1.4" stroke-linejoin="round"/>
<polyline points="204.6,324.90 205.1,325.03 205.6,324.98 206.1,324.87 206.6,325.00 207.1,324.79 207.6,325.00 208.1,324.88 208.6,325.00 209.1,324.99 209.6,324.87 210.1,325.00 210.6,324.98 211.1,324.88 211.6,325.15 212.1,325.03 212.6,324.83 213.1,324.85 213.6,324.98 214.1,324.98 214.6,324.88 215.1,325.07 215.6,324.96 216.1,324.87 216.6,324.91 217.1,324.93 217.6,324.80 218.1,324.87 218.6,324.77 219.1,324.92 219.6,325.01 220.1,324.82 220.6,324.98 221.1,324.83 221.6,324.93 222.1,324.90 222.6,324.83 223.1,324.89 223.6,324.82 224.1,324.97 224.6,324.95 225.1,325.06 225.6,324.79 226.1,325.05 226.6,324.93 227.1,324.97 227.6,324.91 228.1,325.07 228.6,325.05 229.1,325.01 229.6,324.91 230.1,324.64 230.6,324.90 231.1,324.82 231.6,324.77 232.1,324.78 232.6,324.80 233.1,324.65 233.6,324.50 234.1,324.38 234.6,324.41 235.1,324.39 235.6,324.25 236.1,324.16 236.6,324.01 237.1,323.88 237.6,324.08 237.6,324.05 238.1,323.82 238.6,323.96 239.1,324.19 239.6,324.27 240.1,324.18 240.6,324.56 241.1,324.55 241.6,324.59 242.1,324.55 242.6,324.48 243.1,324.75 243.6,324.88 244.1,324.83 244.6,324.65 245.1,324.89 245.6,324.72 246.1,324.57 246.6,324.83 247.1,324.52 247.6,324.81 248.1,324.89 248.6,324.89 249.1,325.05 249.6,324.84 250.1,324.67 250.6,324.82 251.1,324.82 251.6,324.68 252.1,324.56 252.6,324.68 253.1,324.64 253.6,324.66 254.1,324.67 254.6,324.75 255.1,324.72 255.6,324.79 256.1,324.58 256.6,324.71 257.1,324.43 257.6,324.59 258.1,324.41 258.6,324.46 259.1,324.63 259.6,324.41 260.1,324.63 260.6,324.64 261.1,324.49 261.6,324.39 262.1,324.29 262.6,324.28 263.1,324.32 263.6,324.20 264.1,324.26 264.6,324.15 265.1,324.25 265.6,323.96 266.1,324.15 266.6,324.15 267.1,323.90 267.6,324.09 268.1,324.03 268.6,323.87 269.1,323.58 269.6,323.66 270.1,323.38 270.6,323.38 271.1,323.18 271.6,323.18 272.1,322.93 272.6,322.85 273.1,322.70 273.6,322.31 274.1,322.16 274.6,321.77 275.1,321.44 275.6,321.05 276.1,320.57 276.6,320.10 277.1,319.69 277.6,319.09 278.1,318.30 278.6,317.63 279.1,316.81 279.6,315.85 280.1,314.57 280.6,313.67 281.1,312.62 281.6,311.24 282.1,309.82 282.6,308.33 283.1,306.84 283.6,305.14 284.1,303.54 284.6,301.66 285.1,299.83 285.6,297.98 286.1,296.13 286.6,294.05 287.1,292.16 287.6,290.16 288.1,288.18 288.6,286.48 289.1,284.81 289.6,283.17 290.1,281.66 290.6,280.34 291.1,279.15 291.6,278.37 292.1,277.91 292.6,277.34 293.1,277.24 293.1,277.39 293.6,277.41 294.1,277.84 294.6,278.38 295.1,279.48 295.6,280.67 296.1,281.85 296.6,283.46 297.1,285.08 297.6,286.46 298.1,288.70 298.6,290.32 299.1,292.44 299.6,294.40 300.1,296.28 300.6,298.20 301.1,300.09 301.6,301.92 302.1,303.71 302.6,305.39 303.1,307.09 303.6,308.66 304.1,310.09 304.6,311.51 305.1,312.68 305.6,313.97 306.1,315.12 306.6,316.20 307.1,316.84 307.6,317.87 308.1,318.58 308.6,319.04 309.1,319.79 309.6,320.30 310.1,320.94 310.6,321.47 311.1,321.84 311.6,322.08 312.1,322.49 312.6,322.66 313.1,322.88 313.6,322.92 314.1,323.19 314.6,323.38 315.1,323.49 315.6,323.60 316.1,323.76 316.6,324.01 317.1,324.05 317.6,324.12 318.1,324.13 318.6,324.19 319.1,324.30 319.6,324.29 320.1,324.43 320.6,324.45 321.1,324.48 321.6,324.57 322.1,324.60 322.6,324.66 323.1,324.58 323.6,324.61 324.1,324.66 324.6,324.68 325.1,324.93 325.6,324.75 326.1,324.90 326.6,324.96 327.1,325.06 327.6,324.92 328.1,324.91 328.6,325.01 329.1,325.19 329.6,325.01 330.1,325.15 330.6,325.17" fill="none" stroke="#ff0000" stroke-width="1.4" stroke-linejoin="round"/>
<polyline points="204.6,375.74 205.1,375.82 205.6,375.45 206.1,375.75 206.6,375.53 207.1,375.41 207.6,375.35 208.1,375.27 208.6,375.30 209.1,375.34 209.6,375.25 210.1,375.19 210.6,374.88 211.1,374.82 211.6,375.05 212.1,374.91 212.6,374.95 213.1,374.76 213.6,374.45 214.1,374.59 214.6,374.43 215.1,374.29 215.6,374.09 216.1,374.07 216.6,373.96 217.1,373.96 217.6,373.79 218.1,373.83 218.6,373.50 219.1,373.53 219.6,373.44 220.1,373.22 220.6,373.10 221.1,373.24 221.6,373.12 222.1,372.99 222.6,372.98 223.1,372.82 223.6,372.87 224.1,372.75 224.6,372.81 225.1,372.87 225.2,372.74 225.6,372.85 226.1,372.66 226.6,372.75 227.1,372.66 227.6,372.82 228.1,372.87 228.6,372.89 229.1,372.93 229.6,373.15 230.1,373.21 230.6,373.02 231.1,373.32 231.6,373.11 232.1,373.28 232.6,373.41 233.1,373.52 233.6,373.48 234.1,373.59 234.6,373.74 235.1,373.74 235.6,373.82 236.1,374.02 236.6,374.11 237.1,374.08 237.6,374.15 238.1,374.20 238.6,374.21 239.1,374.26 239.6,374.25 240.1,374.46 240.6,374.43 241.1,374.45 241.6,374.51 242.1,374.57 242.6,374.67 243.1,374.51 243.6,374.49 244.1,374.54 244.6,374.42 245.1,374.60 245.6,374.53 246.1,374.45 246.6,374.30 247.1,374.29 247.6,374.22 248.1,374.03 248.6,373.79 249.1,373.47 249.6,373.51 250.1,373.12 250.6,372.77 251.1,372.61 251.6,372.16 252.1,371.55 252.6,371.19 253.1,370.62 253.6,370.15 254.1,369.20 254.6,368.63 255.1,367.88 255.6,367.22 256.1,366.10 256.6,365.00 257.1,364.21 257.6,363.40 258.1,362.46 258.6,361.55 259.1,360.43 259.6,359.32 260.1,358.54 260.6,357.53 261.1,356.65 261.6,355.86 262.1,355.25 262.6,354.36 262.9,354.04 263.1,353.84 263.6,353.31 264.1,352.76 264.6,352.32 265.1,352.05 265.6,351.77 266.1,351.33 266.6,350.94 267.1,350.59 267.6,349.83 268.1,349.40 268.6,348.96 269.1,348.34 269.6,347.76 270.1,347.23 270.6,346.43 271.1,345.83 271.6,345.00 272.1,344.44 272.6,344.05 273.1,343.30 273.6,342.90 274.1,342.54 274.6,342.13 275.1,342.08 275.6,342.00 276.1,342.14 276.6,342.22 277.1,342.46 277.6,342.92 278.1,343.46 278.6,344.11 279.1,344.59 279.6,345.12 280.1,345.65 280.6,346.22 281.1,346.40 281.6,346.85 282.1,346.68 282.6,346.69 283.1,346.62 283.6,346.20 284.1,345.49 284.6,344.82 285.1,343.85 285.6,342.94 286.1,341.71 286.6,340.27 287.1,338.99 287.6,337.48 288.1,336.08 288.6,334.70 289.1,333.33 289.6,332.27 290.1,331.30 290.6,330.55 291.1,330.14 291.4,329.84 291.6,329.68 292.1,329.86 292.6,330.30 293.1,330.90 293.6,331.82 294.1,332.89 294.6,334.00 295.1,335.32 295.6,336.62 296.1,338.26 296.6,339.57 297.1,340.92 297.6,342.32 298.1,343.74 298.6,345.24 299.1,346.39 299.6,347.31 300.1,348.58 300.6,349.67 301.1,350.71 301.6,351.64 302.1,352.47 302.5,353.31 302.6,353.39 303.1,354.12 303.6,355.16 304.1,356.05 304.6,357.09 305.1,357.98 305.6,358.65 306.1,359.64 306.6,360.50 307.1,361.20 307.6,361.98 308.1,363.01 308.6,363.84 309.1,364.55 309.6,365.09 310.1,366.09 310.6,366.74 311.1,367.38 311.6,368.07 312.1,368.59 312.6,369.32 313.1,369.79 313.6,370.22 314.1,370.76 314.6,371.14 315.1,371.38 315.6,371.86 316.1,372.15 316.6,372.31 317.1,372.68 317.6,373.02 318.1,373.12 318.6,373.51 319.1,373.70 319.6,373.65 320.1,373.87 320.6,374.13 321.1,374.00 321.6,374.04 322.1,374.17 322.6,374.15 323.1,374.22 323.6,374.43 324.1,374.42 324.6,374.54 325.1,374.61 325.6,374.52 326.1,374.61 326.6,374.64 327.1,374.63 327.6,374.64 328.1,374.79 328.6,374.77 329.1,374.84 329.6,374.93 330.1,374.95 330.6,374.76" fill="none" stroke="#ff0000" stroke-width="1.4" stroke-linejoin="round"/>
<polyline points="381.4,90.85 381.9,90.82 382.4,90.79 382.9,90.57 383.4,90.85 383.9,90.59 384.4,90.89 384.9,90.87 385.4,90.89 385.9,90.89 386.4,90.84 386.9,90.75 387.4,90.78 387.9,90.96 388.4,90.75 388.9,90.79 389.4,90.74 389.9,90.76 390.4,90.78 390.9,90.83 391.4,90.78 391.9,90.77 392.4,90.75 392.9,90.82 393.4,90.67 393.9,90.81 394.4,90.94 394.9,90.73 395.4,90.80 395.9,91.08 396.4,90.70 396.9,90.63 397.4,90.75 397.9,90.97 398.4,90.99 398.9,90.66 399.4,90.84 399.9,90.78 400.4,90.72 400.9,90.58 401.4,90.87 401.9,90.68 402.4,90.79 402.9,90.76 403.4,90.93 403.9,90.86 404.4,90.62 404.9,90.70 405.4,90.82 405.9,90.58 406.4,90.67 406.9,90.72 407.4,90.53 407.9,90.55 408.4,90.50 408.9,90.69 409.4,90.59 409.9,90.73 410.4,90.63 410.9,90.67 411.4,90.59 411.9,90.66 412.4,90.56 412.9,90.46 413.4,90.66 413.9,90.62 414.4,90.73 414.9,90.47 415.4,90.41 415.9,90.31 416.4,90.05 416.9,90.28 417.4,90.44 417.9,90.28 418.4,90.09 418.9,90.39 419.4,90.25 419.9,90.25 420.4,90.21 420.9,90.22 421.4,90.26 421.9,90.01 422.4,90.13 422.9,90.08 423.4,90.22 423.9,89.97 424.4,90.21 424.9,90.08 425.4,90.15 425.9,89.89 426.4,90.01 426.9,89.93 427.4,89.72 427.9,89.81 428.4,89.76 428.9,89.68 429.4,89.66 429.9,89.57 430.4,89.63 430.9,89.68 431.4,89.54 431.9,89.43 432.4,89.66 432.9,89.48 433.4,89.49 433.9,89.43 434.4,89.37 434.9,89.46 435.4,89.31 435.9,89.34 436.4,89.16 436.9,89.12 437.4,89.21 437.9,89.42 438.4,89.22 438.9,89.36 439.4,89.19 439.9,89.16 440.4,89.04 440.9,89.07 441.4,89.22 441.9,89.13 442.4,88.92 442.9,88.91 443.4,89.06 443.9,88.84 444.4,88.94 444.9,88.71 445.4,88.81 445.9,88.84 446.4,88.70 446.5,88.63 446.9,88.55 447.4,88.43 447.9,88.32 448.4,88.31 448.9,88.15 449.4,87.89 449.9,87.51 450.4,87.34 450.9,87.13 451.4,86.78 451.9,86.27 452.4,86.04 452.9,85.76 453.4,84.83 453.9,84.36 454.4,83.83 454.9,82.85 455.4,81.96 455.9,80.95 456.4,79.69 456.9,77.98 457.4,76.11 457.9,73.40 458.4,70.89 458.9,67.94 459.4,65.10 459.9,62.86 460.3,61.58 460.4,61.42 460.9,60.54 461.4,60.53 461.9,60.67 462.4,60.92 462.9,60.94 463.4,60.28 463.9,59.38 464.4,58.05 464.9,56.72 465.4,55.49 465.9,54.59 466.0,54.22 466.4,53.90 466.9,53.77 467.4,53.75 467.5,53.74 467.9,53.35 468.4,53.12 468.9,52.62 469.4,51.77 469.9,50.65 470.4,49.59 470.9,48.75 471.4,48.25 471.9,48.59 472.0,48.78 472.4,49.54 472.9,51.38 473.4,53.18 473.9,55.94 474.4,58.74 474.9,61.18 475.4,63.57 475.9,65.54 476.4,67.26 476.9,68.94 477.4,70.57 477.9,71.52 478.3,72.61 478.4,72.72 478.9,73.95 479.4,75.02 479.9,76.14 480.4,76.98 480.9,78.19 481.4,79.00 481.9,79.77 482.4,80.56 482.9,81.31 483.4,82.22 483.9,83.11 484.4,83.55 484.9,84.06 485.4,84.71 485.9,85.17 486.4,85.58 486.9,85.89 487.4,86.43 487.9,86.90 488.4,87.14 488.9,87.35 489.4,87.46 489.9,87.63 490.4,87.79 490.9,87.74 491.4,87.76 491.9,87.60 492.4,87.54 492.9,86.98 493.4,86.64 493.9,86.02 494.4,85.33 494.9,84.68 495.4,84.15 495.6,84.07 495.9,84.10 496.4,84.41 496.9,84.87 497.4,85.54 497.9,86.08 498.4,86.48 498.9,86.92 499.4,86.99 499.9,87.19 500.4,87.34 500.9,87.37 501.4,87.19 501.9,87.27 502.4,87.17 502.9,87.37 503.4,87.29 503.9,87.23 504.4,87.11 504.5,87.10 504.9,87.19 505.4,87.15 505.9,87.15 506.4,87.27 506.9,87.09 507.4,87.03 507.9,87.09 508.4,86.94 508.9,86.72 509.4,86.02 509.9,85.16 510.4,83.89 510.9,83.40 511.2,83.14 511.4,83.08 511.9,84.00 512.4,85.34 512.9,86.52 513.4,87.38 513.9,88.07 514.4,88.48 514.9,88.50 515.4,88.64 515.9,88.83 516.4,89.04 516.9,88.46 517.4,82.12 517.9,70.69 518.0,70.10 518.4,77.13 518.9,87.31 519.4,89.44 519.9,89.78 520.4,90.05 520.9,90.11 521.4,90.00 521.9,90.10 522.4,90.39 522.9,90.40 523.4,90.36 523.9,90.60 524.4,90.73 524.9,90.74 525.4,90.73 525.9,90.91 526.4,90.78 526.9,90.81 527.4,90.83 527.9,91.15 528.4,91.22 528.9,91.04 529.4,91.13 529.9,91.15 530.4,91.23 530.9,91.29 531.4,91.26 531.9,91.21 532.4,91.19 532.9,91.16 533.4,91.02 533.9,91.30 534.4,91.24 534.9,91.34 535.4,91.35 535.9,91.27 536.4,91.33 536.9,91.44 537.4,91.43 537.9,91.33 538.4,91.36 538.9,91.50 539.4,91.48 539.9,91.49 540.4,91.45 540.9,91.55 541.4,91.50 541.9,91.75 542.4,91.46 542.9,91.44 543.4,91.68 543.9,91.52 544.4,91.45 544.9,91.58 545.4,91.31 545.9,91.59 546.4,91.56 546.9,91.59 547.4,91.49 547.9,91.70 548.4,91.61" fill="none" stroke="#ff0000" stroke-width="1.3" stroke-linejoin="round"/>
<polyline points="381.4,157.46 381.9,157.41 382.4,157.35 382.9,157.16 383.4,157.38 383.9,157.46 384.4,157.46 384.9,157.30 385.4,157.56 385.9,157.52 386.4,157.30 386.9,157.29 387.4,157.40 387.9,157.26 388.4,157.30 388.9,157.39 389.4,157.38 389.9,157.20 390.4,157.19 390.9,157.17 391.4,157.22 391.9,157.22 392.4,157.16 392.9,157.27 393.4,157.18 393.9,157.17 394.4,156.96 394.9,157.01 395.4,157.07 395.9,157.16 396.4,157.03 396.9,157.26 397.4,157.11 397.9,157.11 398.4,157.09 398.9,157.11 399.4,157.14 399.9,156.99 400.4,157.19 400.9,156.94 401.4,157.06 401.9,156.98 402.4,156.97 402.9,157.05 403.4,156.99 403.9,157.12 404.4,156.89 404.9,156.99 405.4,156.98 405.9,157.12 406.4,157.06 406.9,156.96 407.4,157.05 407.9,156.95 408.4,156.78 408.9,156.88 409.4,156.96 409.9,156.77 410.4,156.97 410.9,156.84 411.4,156.73 411.9,156.82 412.4,156.61 412.9,156.69 413.4,156.64 413.9,156.78 414.4,156.62 414.9,156.55 415.4,156.73 415.9,156.64 416.4,156.60 416.9,156.60 417.4,156.75 417.9,156.65 418.4,156.55 418.9,156.89 419.4,156.65 419.9,156.78 420.4,156.68 420.9,156.70 421.4,156.46 421.9,156.48 422.4,156.58 422.9,156.50 423.4,156.50 423.9,156.59 424.4,156.23 424.9,156.42 425.4,156.59 425.9,156.37 426.4,156.41 426.9,156.43 427.4,156.41 427.9,156.39 428.4,156.25 428.9,156.36 429.4,156.25 429.9,156.45 430.4,156.21 430.9,156.28 431.4,156.21 431.9,156.32 432.4,156.20 432.9,156.23 433.4,156.08 433.9,156.07 434.4,155.99 434.9,156.03 435.4,155.98 435.9,155.86 436.4,155.81 436.9,155.90 437.4,155.82 437.9,155.71 438.4,155.63 438.9,155.55 439.4,155.60 439.9,155.46 440.4,155.37 440.9,155.29 441.4,155.20 441.9,155.12 442.4,155.05 442.9,154.75 443.4,154.78 443.9,154.56 444.4,154.52 444.9,154.55 445.4,154.09 445.9,154.02 446.4,153.96 446.9,153.64 447.4,153.97 447.9,153.54 448.4,153.64 448.9,153.35 449.4,153.37 449.9,153.23 450.4,153.03 450.9,153.04 451.4,152.86 451.5,152.87 451.9,153.03 452.4,152.76 452.9,152.73 453.4,153.06 453.9,152.76 454.4,152.81 454.9,152.92 455.4,152.66 455.9,152.56 456.4,152.64 456.9,152.21 457.4,151.85 457.9,151.23 458.4,150.56 458.9,149.37 459.4,148.37 459.9,147.11 460.4,145.69 460.9,144.18 461.4,143.13 461.9,142.47 462.0,142.16 462.4,141.95 462.9,141.85 463.4,141.95 463.9,142.47 464.4,142.47 464.9,142.43 465.4,142.15 465.9,141.46 466.4,140.46 466.9,139.32 467.4,137.74 467.9,136.09 468.4,134.26 468.9,132.71 469.4,130.81 469.9,129.16 470.4,127.94 470.9,127.01 471.4,126.21 471.9,125.92 472.1,125.78 472.4,125.83 472.9,126.23 473.4,126.91 473.9,128.03 474.4,129.39 474.9,131.03 475.4,132.63 475.9,134.47 476.4,136.36 476.9,138.12 477.4,139.85 477.9,141.51 478.4,142.96 478.9,144.38 479.4,145.72 479.9,147.05 480.4,148.05 480.9,148.88 481.4,149.67 481.9,150.33 482.4,150.55 482.9,151.17 483.4,151.67 483.9,152.06 484.4,152.14 484.9,152.49 485.4,152.59 485.9,152.61 486.4,152.59 486.5,152.61 486.9,152.77 487.4,152.86 487.9,152.88 488.4,152.98 488.9,153.01 489.4,152.97 489.9,153.02 490.4,152.99 490.9,152.74 491.4,152.73 491.9,152.75 492.4,152.51 492.9,151.92 493.4,150.97 493.9,149.54 494.4,147.39 494.9,144.50 495.4,140.98 495.9,137.96 496.4,135.61 496.8,134.84 496.9,135.08 497.4,136.05 497.9,138.82 498.4,142.75 498.9,145.62 499.4,148.22 499.9,150.45 500.4,151.96 500.9,152.67 501.4,153.21 501.9,153.62 502.4,153.93 502.9,153.93 503.4,153.97 503.9,153.95 504.4,154.11 504.9,154.33 505.4,153.92 505.9,153.87 506.4,153.84 506.9,153.78 507.4,153.52 507.9,153.08 508.4,152.61 508.9,152.26 509.4,151.57 509.9,151.05 510.4,150.34 510.9,150.07 511.4,149.68 511.5,149.97 511.9,149.82 512.4,150.16 512.9,150.75 513.4,151.30 513.9,151.87 514.4,152.54 514.9,152.91 515.4,153.54 515.9,153.51 516.4,153.71 516.9,151.98 517.4,137.60 517.9,111.02 518.0,110.00 518.4,125.95 518.9,149.22 519.4,153.74 519.9,154.22 520.4,154.34 520.9,154.58 521.4,154.43 521.9,154.33 522.4,154.26 522.9,154.59 523.4,154.52 523.9,154.66 524.4,154.36 524.9,154.50 525.4,154.44 525.9,154.57 526.4,154.49 526.9,154.66 527.4,154.47 527.9,154.49 528.4,154.45 528.9,154.55 529.4,154.61 529.9,154.55 530.4,154.43 530.9,154.38 531.4,154.39 531.9,154.50 532.4,154.42 532.9,154.45 533.4,154.57 533.9,154.50 534.4,154.47 534.9,154.39 535.4,154.41 535.9,154.40 536.4,154.42 536.9,154.39 537.4,154.42 537.9,154.34 538.4,154.52 538.9,154.42 539.4,154.41 539.9,154.46 540.4,154.26 540.9,154.24 541.4,154.20 541.9,154.26 542.4,154.39 542.9,154.34 543.4,154.47 543.9,154.17 544.4,154.35 544.9,154.17 545.4,154.16 545.9,154.15 546.4,154.39 546.9,154.27 547.4,154.38 547.9,154.25 548.4,154.31" fill="none" stroke="#ff0000" stroke-width="1.3" stroke-linejoin="round"/>
<polyline points="381.4,225.80 381.9,225.80 382.4,225.80 382.9,225.80 383.4,225.80 383.9,225.80 384.4,225.80 384.9,225.80 385.4,225.80 385.9,225.80 386.4,225.80 386.9,225.80 387.4,225.80 387.9,225.79 388.4,225.79 388.9,225.79 389.4,225.79 389.9,225.79 390.4,225.79 390.9,225.79 391.4,225.79 391.9,225.79 392.4,225.79 392.9,225.79 393.4,225.79 393.9,225.79 394.4,225.79 394.9,225.79 395.4,225.79 395.9,225.79 396.4,225.79 396.9,225.79 397.4,225.79 397.9,225.79 398.4,225.79 398.9,225.79 399.4,225.79 399.9,225.79 400.4,225.79 400.9,225.79 401.4,225.79 401.9,225.79 402.4,225.79 402.9,225.79 403.4,225.79 403.9,225.79 404.4,225.79 404.9,225.79 405.4,225.79 405.9,225.79 406.4,225.79 406.9,225.79 407.4,225.79 407.9,225.79 408.4,225.79 408.9,225.79 409.4,225.79 409.9,225.79 410.4,225.79 410.9,225.79 411.4,225.79 411.9,225.79 412.4,225.79 412.9,225.79 413.4,225.79 413.9,225.79 414.4,225.79 414.9,225.79 415.4,225.79 415.9,225.79 416.4,225.79 416.9,225.79 417.4,225.79 417.9,225.79 418.4,225.79 418.9,225.79 419.4,225.79 419.9,225.79 420.4,225.78 420.9,225.78 421.4,225.78 421.9,225.78 422.4,225.78 422.9,225.78 423.4,225.78 423.9,225.78 424.4,225.78 424.9,225.78 425.4,225.78 425.9,225.78 426.4,225.78 426.9,225.78 427.4,225.78 427.9,225.77 428.4,225.77 428.9,225.77 429.4,225.77 429.9,225.77 430.4,225.77 430.9,225.76 431.4,225.76 431.9,225.75 432.4,225.75 432.9,225.74 433.4,225.72 433.9,225.70 434.4,225.64 434.9,225.41 435.4,224.72 435.9,223.53 436.3,223.00 436.4,223.04 436.9,224.02 437.4,225.07 437.9,225.53 438.4,225.66 438.9,225.70 439.4,225.72 439.9,225.73 440.4,225.73 440.9,225.74 441.4,225.74 441.9,225.74 442.4,225.74 442.9,225.74 443.4,225.74 443.9,225.74 444.4,225.74 444.9,225.74 445.4,225.73 445.9,225.73 446.4,225.73 446.9,225.73 447.4,225.72 447.9,225.72 448.4,225.71 448.9,225.71 449.4,225.70 449.9,225.70 450.4,225.69 450.9,225.68 451.4,225.68 451.9,225.67 452.4,225.65 452.9,225.64 453.4,225.63 453.9,225.61 454.4,225.58 454.9,225.56 455.4,225.52 455.9,225.48 456.4,225.42 456.9,225.34 457.4,225.21 457.9,224.97 458.4,224.26 458.9,222.23 459.4,217.90 459.9,212.36 460.3,210.20 460.4,210.34 460.9,214.37 461.4,219.69 461.9,222.91 462.4,224.05 462.9,224.01 463.4,222.75 463.9,219.33 464.4,213.73 464.9,209.46 465.0,209.30 465.4,211.48 465.9,217.16 466.4,221.54 466.9,223.52 467.4,224.07 467.9,224.08 468.4,223.87 468.9,223.39 469.4,222.31 469.9,219.73 470.4,214.05 470.9,204.05 471.4,191.32 471.9,182.81 472.0,182.50 472.4,186.56 472.9,198.06 473.4,207.66 473.9,210.91 474.4,209.28 474.8,208.60 474.9,208.96 475.4,213.57 475.9,219.11 476.4,222.56 476.9,224.03 477.4,224.58 477.9,224.85 478.4,225.02 478.9,225.14 479.4,225.24 479.9,225.31 480.4,225.37 480.9,225.42 481.4,225.47 481.9,225.50 482.4,225.53 482.9,225.55 483.4,225.58 483.9,225.59 484.4,225.61 484.9,225.62 485.4,225.64 485.9,225.65 486.4,225.66 486.9,225.67 487.4,225.68 487.9,225.68 488.4,225.69 488.9,225.70 489.4,225.70 489.9,225.71 490.4,225.71 490.9,225.72 491.4,225.72 491.9,225.72 492.4,225.73 492.9,225.73 493.4,225.73 493.9,225.74 494.4,225.74 494.9,225.74 495.4,225.74 495.9,225.75 496.4,225.75 496.9,225.75 497.4,225.75 497.9,225.75 498.4,225.75 498.9,225.76 499.4,225.76 499.9,225.76 500.4,225.76 500.9,225.76 501.4,225.76 501.9,225.76 502.4,225.76 502.9,225.76 503.4,225.76 503.9,225.76 504.4,225.76 504.9,225.76 505.4,225.76 505.9,225.76 506.4,225.76 506.9,225.76 507.4,225.76 507.9,225.76 508.4,225.76 508.9,225.76 509.4,225.76 509.9,225.75 510.4,225.75 510.9,225.75 511.4,225.74 511.9,225.73 512.4,225.72 512.9,225.71 513.4,225.69 513.9,225.66 514.4,225.62 514.9,225.54 515.4,225.31 515.9,224.44 516.4,221.99 516.9,218.45 517.2,217.50 517.4,217.94 517.9,221.29 518.4,224.10 518.9,225.22 519.4,225.51 519.9,225.61 520.4,225.66 520.9,225.69 521.4,225.71 521.9,225.73 522.4,225.74 522.9,225.75 523.4,225.75 523.9,225.76 524.4,225.76 524.9,225.77 525.4,225.77 525.9,225.77 526.4,225.77 526.9,225.78 527.4,225.78 527.9,225.78 528.4,225.78 528.9,225.78 529.4,225.78 529.9,225.78 530.4,225.78 530.9,225.78 531.4,225.78 531.9,225.79 532.4,225.79 532.9,225.79 533.4,225.79 533.9,225.79 534.4,225.79 534.9,225.79 535.4,225.79 535.9,225.79 536.4,225.79 536.9,225.79 537.4,225.79 537.9,225.79 538.4,225.79 538.9,225.79 539.4,225.79 539.9,225.79 540.4,225.79 540.9,225.79 541.4,225.79 541.9,225.79 542.4,225.79 542.9,225.79 543.4,225.79 543.9,225.79 544.4,225.79 544.9,225.79 545.4,225.79 545.9,225.79 546.4,225.79 546.9,225.79 547.4,225.79 547.9,225.79 548.4,225.79" fill="none" stroke="#ff0000" stroke-width="1.3" stroke-linejoin="round"/>
<polyline points="381.4,297.54 381.9,297.49 382.4,297.50 382.9,297.29 383.4,297.48 383.9,297.38 384.4,297.37 384.9,297.50 385.4,297.34 385.9,297.25 386.4,297.32 386.9,297.25 387.4,297.18 387.9,297.34 388.4,297.39 388.9,297.13 389.4,297.35 389.9,297.37 390.4,297.35 390.9,297.21 391.4,297.30 391.9,297.31 392.4,297.36 392.9,297.19 393.4,297.35 393.9,297.41 394.4,297.07 394.9,297.32 395.4,297.14 395.9,297.27 396.4,297.22 396.9,297.41 397.4,297.28 397.9,297.35 398.4,297.16 398.9,297.31 399.4,297.40 399.9,297.18 400.4,297.31 400.9,297.29 401.4,297.23 401.9,297.11 402.4,297.25 402.9,297.19 403.4,297.28 403.9,297.29 404.4,297.36 404.9,297.12 405.4,297.28 405.9,297.26 406.4,297.19 406.9,297.24 407.4,297.19 407.9,297.24 408.4,297.20 408.9,297.10 409.4,297.16 409.9,297.21 410.4,297.05 410.9,297.09 411.4,297.26 411.9,297.15 412.4,297.05 412.9,297.05 413.4,297.24 413.9,297.14 414.4,296.90 414.9,297.13 415.4,296.99 415.9,297.06 416.4,296.90 416.9,297.03 417.4,296.97 417.9,296.92 418.4,297.12 418.9,297.27 419.4,297.07 419.9,297.02 420.4,296.87 420.9,296.95 421.4,296.90 421.9,296.77 422.4,297.00 422.9,296.92 423.4,296.84 423.9,296.75 424.4,296.92 424.9,297.00 425.4,296.85 425.9,296.77 426.4,296.85 426.9,296.67 427.4,296.52 427.9,296.88 428.4,296.84 428.9,296.60 429.4,296.60 429.9,296.71 430.4,296.39 430.9,296.45 431.4,296.47 431.9,296.50 432.4,296.18 432.9,296.11 433.4,296.14 433.9,295.98 434.4,296.11 434.9,295.79 435.4,295.80 435.9,295.70 436.4,295.56 436.9,295.32 437.4,295.52 437.9,295.30 438.4,295.25 438.9,295.13 439.4,294.91 439.9,294.82 440.4,294.72 440.9,294.78 441.4,294.51 441.9,294.25 442.4,294.36 442.9,294.21 443.4,294.32 443.9,294.09 444.4,294.13 444.9,294.03 445.2,294.01 445.4,293.88 445.9,293.87 446.4,293.84 446.9,293.82 447.4,293.73 447.9,293.47 448.4,293.43 448.9,293.39 449.4,293.16 449.9,292.78 450.4,292.47 450.9,292.29 451.4,291.74 451.9,290.96 452.4,290.70 452.9,289.83 453.4,288.95 453.9,287.95 454.4,286.86 454.9,285.78 455.4,284.57 455.9,283.26 456.4,281.86 456.9,280.85 457.4,279.49 457.9,278.09 458.4,276.76 458.9,275.48 459.4,274.40 459.9,273.47 460.4,272.57 460.9,272.03 461.4,271.51 461.8,271.17 461.9,271.18 462.4,270.95 462.9,270.88 463.4,270.62 463.9,270.36 464.4,270.19 464.9,269.84 465.4,269.26 465.9,268.39 466.4,267.28 466.9,266.45 467.4,265.62 467.9,265.31 468.4,265.24 468.5,265.23 468.9,265.88 469.4,266.75 469.9,267.93 470.4,269.60 470.9,270.93 471.4,272.78 471.9,274.24 472.4,275.80 472.9,276.91 473.4,277.92 473.5,278.02 473.9,278.78 474.4,279.76 474.9,280.56 475.4,281.32 475.9,282.27 476.4,282.80 476.9,283.29 477.4,284.04 477.9,284.40 478.4,284.82 478.9,285.15 479.4,285.12 479.9,285.20 480.4,285.41 480.9,285.74 481.4,286.05 481.9,286.35 482.0,286.23 482.4,286.61 482.9,287.21 483.4,287.74 483.9,288.56 484.4,289.33 484.9,290.27 485.4,290.91 485.9,291.92 486.4,292.53 486.9,293.11 487.4,293.51 487.9,294.19 488.4,294.60 488.9,295.08 489.4,295.26 489.9,295.67 490.4,295.62 490.9,295.59 491.4,295.92 491.9,295.80 492.4,296.01 492.9,295.97 493.4,296.19 493.9,296.01 494.4,296.20 494.9,295.96 495.4,296.24 495.9,296.03 496.4,296.17 496.9,296.25 497.4,296.08 497.9,296.09 498.4,296.20 498.9,296.05 499.4,295.98 499.9,296.03 500.4,295.85 500.9,295.67 501.4,295.56 501.9,295.13 502.4,294.87 502.9,294.80 503.4,294.70 503.9,294.28 504.4,294.03 504.9,293.83 505.4,293.61 505.9,293.37 506.4,293.07 506.9,293.07 507.4,292.97 507.4,293.00 507.9,293.15 508.4,293.41 508.9,293.17 509.4,293.52 509.9,293.70 510.4,294.02 510.9,294.55 511.4,294.96 511.9,295.04 512.4,295.11 512.9,295.19 513.4,295.32 513.9,295.76 514.4,295.83 514.9,295.74 515.4,295.88 515.9,295.60 516.4,293.93 516.9,286.69 517.4,277.83 517.5,277.16 517.9,282.54 518.4,292.06 518.9,295.29 519.4,295.96 519.9,296.08 520.4,296.10 520.9,296.10 521.4,296.11 521.9,296.22 522.4,296.49 522.9,296.22 523.4,296.23 523.9,296.39 524.4,296.02 524.9,296.18 525.4,296.23 525.9,296.30 526.4,296.23 526.9,296.26 527.4,296.22 527.9,296.24 528.4,296.29 528.9,296.17 529.4,296.47 529.9,296.09 530.4,296.38 530.9,296.37 531.4,296.30 531.9,296.35 532.4,296.14 532.9,296.38 533.4,296.30 533.9,296.34 534.4,296.37 534.9,296.35 535.4,296.42 535.9,296.32 536.4,296.41 536.9,296.17 537.4,296.37 537.9,296.09 538.4,296.21 538.9,295.96 539.4,296.26 539.9,296.42 540.4,296.07 540.9,296.17 541.4,296.20 541.9,296.16 542.4,296.40 542.9,296.11 543.4,296.47 543.9,296.37 544.4,296.20 544.9,296.40 545.4,296.26 545.9,296.18 546.4,296.23 546.9,296.33 547.4,296.22 547.9,296.20 548.4,296.19" fill="none" stroke="#ff0000" stroke-width="1.3" stroke-linejoin="round"/>
<polyline points="381.4,355.49 381.9,355.49 382.4,355.49 382.9,355.49 383.4,355.49 383.9,355.49 384.4,355.49 384.9,355.49 385.4,355.48 385.9,355.48 386.4,355.48 386.9,355.48 387.4,355.48 387.9,355.48 388.4,355.48 388.9,355.48 389.4,355.48 389.9,355.48 390.4,355.48 390.9,355.48 391.4,355.48 391.9,355.48 392.4,355.48 392.9,355.48 393.4,355.48 393.9,355.48 394.4,355.48 394.9,355.48 395.4,355.48 395.9,355.48 396.4,355.48 396.9,355.48 397.4,355.47 397.9,355.47 398.4,355.47 398.9,355.47 399.4,355.47 399.9,355.47 400.4,355.47 400.9,355.47 401.4,355.47 401.9,355.47 402.4,355.47 402.9,355.46 403.4,355.46 403.9,355.46 404.4,355.46 404.9,355.46 405.4,355.45 405.9,355.45 406.4,355.45 406.9,355.44 407.4,355.44 407.9,355.43 408.4,355.42 408.9,355.41 409.4,355.39 409.9,355.37 410.4,355.35 410.9,355.32 411.4,355.28 411.9,355.23 412.4,355.18 412.9,355.11 413.4,355.04 413.9,354.96 414.4,354.87 414.9,354.78 415.4,354.69 415.9,354.60 416.4,354.52 416.9,354.46 417.4,354.42 417.9,354.40 418.0,354.40 418.4,354.41 418.9,354.44 419.4,354.50 419.9,354.57 420.4,354.65 420.9,354.74 421.4,354.83 421.9,354.92 422.4,355.00 422.9,355.08 423.4,355.14 423.9,355.20 424.4,355.25 424.9,355.29 425.4,355.33 425.9,355.35 426.4,355.37 426.9,355.39 427.4,355.40 427.9,355.41 428.4,355.42 428.9,355.42 429.4,355.43 429.9,355.43 430.4,355.43 430.9,355.43 431.4,355.44 431.9,355.44 432.4,355.44 432.9,355.44 433.4,355.44 433.9,355.44 434.4,355.44 434.9,355.44 435.4,355.44 435.9,355.44 436.4,355.44 436.9,355.44 437.4,355.44 437.9,355.44 438.4,355.44 438.9,355.44 439.4,355.44 439.9,355.43 440.4,355.43 440.9,355.43 441.4,355.43 441.9,355.43 442.4,355.43 442.9,355.43 443.4,355.43 443.9,355.42 444.4,355.42 444.9,355.42 445.4,355.42 445.9,355.42 446.4,355.41 446.9,355.41 447.4,355.41 447.9,355.41 448.4,355.40 448.9,355.40 449.4,355.40 449.9,355.39 450.4,355.39 450.9,355.39 451.4,355.38 451.9,355.38 452.4,355.37 452.9,355.37 453.4,355.36 453.9,355.36 454.4,355.35 454.9,355.34 455.4,355.33 455.9,355.33 456.4,355.32 456.9,355.31 457.4,355.29 457.9,355.28 458.4,355.27 458.9,355.25 459.4,355.23 459.9,355.21 460.4,355.18 460.9,355.15 461.4,355.12 461.9,355.08 462.4,355.02 462.9,354.95 463.4,354.86 463.9,354.73 464.4,354.53 464.9,354.05 465.4,352.66 465.9,349.03 466.4,342.57 466.9,336.46 467.1,335.70 467.4,337.18 467.9,343.55 468.4,348.77 468.9,349.52 469.4,346.18 469.9,343.50 470.4,346.46 470.9,350.72 471.4,352.78 471.9,353.21 472.4,353.03 472.9,352.50 473.4,351.43 473.9,349.45 474.4,346.03 474.9,340.72 475.4,333.50 475.9,325.21 476.4,317.96 476.9,314.90 477.4,317.79 477.9,324.80 478.4,332.64 478.9,339.03 479.4,342.92 479.9,344.23 480.4,343.63 480.9,342.26 481.4,341.55 481.5,341.60 481.9,342.53 482.4,344.95 482.9,347.81 483.4,350.32 483.9,352.14 484.4,353.28 484.9,353.92 485.4,354.27 485.9,354.46 486.4,354.59 486.9,354.68 487.4,354.75 487.9,354.80 488.4,354.85 488.9,354.88 489.4,354.91 489.9,354.93 490.4,354.94 490.9,354.95 491.4,354.95 491.9,354.95 492.4,354.94 492.9,354.92 493.4,354.90 493.9,354.85 494.4,354.78 494.9,354.64 495.4,354.07 495.9,351.67 496.4,347.47 496.6,346.80 496.9,348.14 497.4,352.22 497.9,354.01 498.4,354.30 498.9,354.29 499.4,354.19 499.9,354.01 500.4,353.72 500.9,353.25 501.4,352.48 501.9,351.27 502.4,349.44 502.9,346.84 503.4,343.46 503.9,339.46 504.4,335.30 504.9,331.76 505.4,329.83 505.5,329.70 505.9,330.03 506.4,331.82 506.9,333.94 507.4,335.34 507.9,335.65 508.4,335.40 508.9,335.82 509.0,336.10 509.4,338.00 509.9,341.64 510.4,345.58 510.9,348.92 511.4,351.31 511.9,352.78 512.4,353.61 512.9,354.06 513.4,354.32 513.9,354.48 514.4,354.59 514.9,354.66 515.4,354.70 515.9,354.70 516.4,354.55 516.9,352.94 517.4,345.09 517.8,339.40 517.9,339.87 518.4,349.21 518.9,354.17 519.4,354.88 519.9,355.03 520.4,355.10 520.9,355.15 521.4,355.19 521.9,355.22 522.4,355.24 522.9,355.26 523.4,355.28 523.9,355.29 524.4,355.30 524.9,355.31 525.4,355.32 525.9,355.33 526.4,355.34 526.9,355.35 527.4,355.36 527.9,355.36 528.4,355.37 528.9,355.37 529.4,355.38 529.9,355.38 530.4,355.39 530.9,355.39 531.4,355.40 531.9,355.40 532.4,355.40 532.9,355.41 533.4,355.41 533.9,355.41 534.4,355.42 534.9,355.42 535.4,355.42 535.9,355.42 536.4,355.43 536.9,355.43 537.4,355.43 537.9,355.43 538.4,355.43 538.9,355.44 539.4,355.44 539.9,355.44 540.4,355.44 540.9,355.44 541.4,355.44 541.9,355.45 542.4,355.45 542.9,355.45 543.4,355.45 543.9,355.45 544.4,355.45 544.9,355.45 545.4,355.45 545.9,355.46 546.4,355.46 546.9,355.46 547.4,355.46 547.9,355.46 548.4,355.46" fill="none" stroke="#ff0000" stroke-width="1.3" stroke-linejoin="round"/>
<g class="t">
<text x="109.3" y="13.3" font-size="12.6">(a) PCP Complexes</text>
<text x="422.0" y="10.4" font-size="11.5">(b) TCP Complexes</text>
</g>
<g class="t" font-size="12.5" text-anchor="end">
<text x="23.6" y="127.9">PYR</text>
<text x="23.4" y="183.8">3CP</text>
<text x="23.5" y="256.0">4AP</text>
<text x="23.5" y="319.3">QL</text>
<text x="23.5" y="385.9">IQ</text>
</g>
<g class="t" font-size="13.6" text-anchor="end">
<text x="204.4" y="106.8">2MP</text>
<text x="204.4" y="167.5">4MP</text>
<text x="204.0" y="214.7">IMID</text>
<text x="204.8" y="274.4">2A3MP</text>
<text x="204.0" y="330.0">TEDA</text>
<text x="204.8" y="382.5">4DMAP</text>
</g>
<g class="t" font-size="11.5" text-anchor="end">
<text x="380.2" y="116.4">3CP</text>
<text x="378.6" y="181.6">4CP</text>
<text x="379.7" y="247.7">IQ</text>
<text x="379.2" y="317.9">IMID</text>
<text x="381.2" y="380.3">2A4MP</text>
</g>
<g class="t" font-size="14" text-anchor="middle">
<text x="24.9" y="409.6">20</text><text x="75.2" y="409.6">10</text><text x="125.4" y="409.6">0</text>
<text x="204.9" y="409.6">20</text><text x="255.0" y="409.6">10</text><text x="305.2" y="409.6">0</text>
</g>
<g class="t" font-size="12.8" text-anchor="middle">
<text x="381.8" y="410.9">20</text><text x="448.6" y="410.9">10</text><text x="514.8" y="410.9">0</text>
</g>
<g class="t" font-size="13.8">
<text x="28.3" y="429.2">Chemical Shift / ppm</text>
<text x="208.0" y="429.3">Chemical Shift / ppm</text>
</g>
<g class="t" font-size="12.5">
<text x="410.4" y="429.3">Chemical Shift / ppm</text>
</g>
</svg>
</body></html>
